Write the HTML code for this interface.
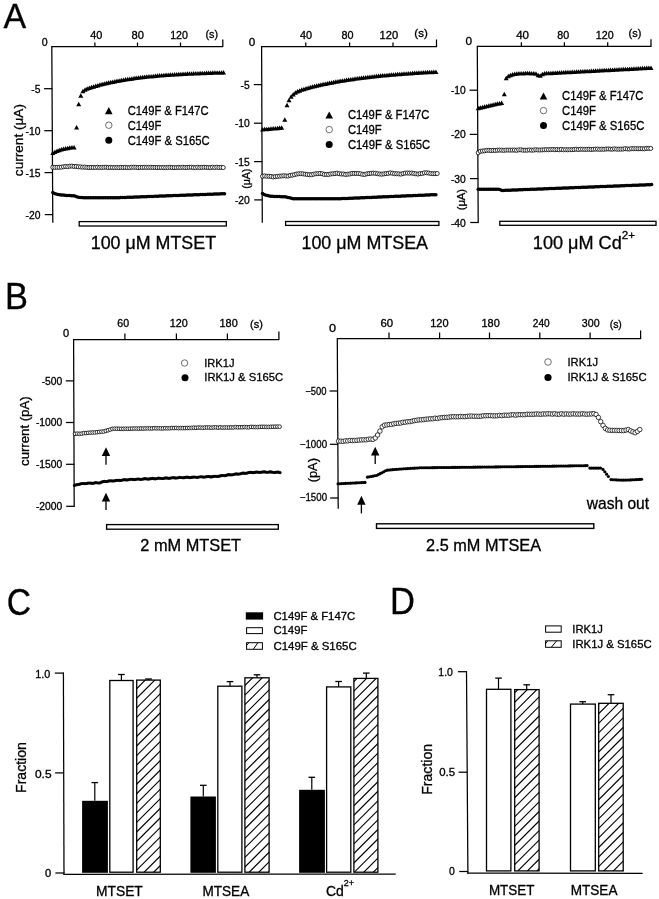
<!DOCTYPE html>
<html><head><meta charset="utf-8"><title>Figure</title>
<style>
html,body{margin:0;padding:0;background:#fff;}
body{width:659px;height:899px;overflow:hidden;}
svg{display:block;}
svg text{font-family:'Liberation Sans', Arial, Helvetica, sans-serif;fill:#000;stroke:#000;stroke-width:0.3;white-space:pre;}
svg line{stroke:#000;}
</style></head><body>
<svg width="659" height="899" viewBox="0 0 659 899">
<rect width="659" height="899" fill="#fff"/>
<text x="3.6" y="27.7" font-size="35.5" textLength="22.7" lengthAdjust="spacingAndGlyphs">A</text>
<text x="5.04" y="309.4" font-size="36.0" textLength="22.97" lengthAdjust="spacingAndGlyphs">B</text>
<text x="6.72" y="614.8" font-size="36.0" textLength="24.26" lengthAdjust="spacingAndGlyphs">C</text>
<text x="390.04" y="614.4" font-size="36.5" textLength="24.91" lengthAdjust="spacingAndGlyphs">D</text>
<line x1="51.8" y1="46.5" x2="222.8" y2="46.5" stroke-width="1.25"/>
<line x1="51.8" y1="45.9" x2="52.8" y2="222.8" stroke-width="1.25"/>
<line x1="222.8" y1="47.1" x2="222.8" y2="39.5" stroke-width="1.25"/>
<line x1="94.9" y1="46.5" x2="94.9" y2="42.5" stroke-width="1.25"/>
<line x1="137.5" y1="46.5" x2="137.5" y2="42.5" stroke-width="1.25"/>
<line x1="180.5" y1="46.5" x2="180.5" y2="42.5" stroke-width="1.25"/>
<line x1="44.04" y1="88.7" x2="52.34" y2="88.7" stroke-width="1.25"/>
<line x1="44.28" y1="130.7" x2="52.58" y2="130.7" stroke-width="1.25"/>
<line x1="44.52" y1="172.6" x2="52.82" y2="172.6" stroke-width="1.25"/>
<line x1="44.75" y1="214.6" x2="53.05" y2="214.6" stroke-width="1.25"/>
<text x="41.78" y="45.5" font-size="10.3" textLength="5.9" lengthAdjust="spacingAndGlyphs">0</text>
<text x="90.18" y="38.7" font-size="10.3" textLength="12.11" lengthAdjust="spacingAndGlyphs">40</text>
<text x="131.45" y="38.5" font-size="10.3" textLength="12.45" lengthAdjust="spacingAndGlyphs">80</text>
<text x="170.16" y="38.5" font-size="10.3" textLength="17.73" lengthAdjust="spacingAndGlyphs">120</text>
<text x="205.56" y="37.5" font-size="10.3" textLength="12.51" lengthAdjust="spacingAndGlyphs">(s)</text>
<text x="31.21" y="92.6" font-size="10.3">-5</text>
<text x="25.49" y="134.6" font-size="10.3">-10</text>
<text x="25.49" y="176.5" font-size="10.3">-15</text>
<text x="25.49" y="218.5" font-size="10.3">-20</text>
<text transform="translate(23.3 175.9) rotate(-90)" x="-0.24" y="0" font-size="13.7" textLength="72.06" lengthAdjust="spacingAndGlyphs">current (μA)</text>
<path d="M50.3 155.08L52.8 150.58L55.3 155.08ZM52.43 153.96L54.93 149.46L57.43 153.96ZM54.56 153.03L57.06 148.53L59.56 153.03ZM56.69 152.24L59.19 147.74L61.69 152.24ZM58.82 151.59L61.32 147.09L63.82 151.59ZM60.95 151.04L63.45 146.54L65.95 151.04ZM63.08 150.58L65.58 146.08L68.08 150.58ZM65.21 150.2L67.71 145.7L70.21 150.2ZM67.34 149.87L69.84 145.37L72.34 149.87ZM69.47 149.6L71.97 145.1L74.47 149.6ZM71.6 149.38L74.1 144.88L76.6 149.38ZM74.1 129.45L76.6 124.95L79.1 129.45ZM76.2 106.25L78.7 101.75L81.2 106.25ZM78.3 97.68L80.8 93.18L83.3 97.68ZM80.43 93.29L82.93 88.79L85.43 93.29ZM82.56 91.66L85.06 87.16L87.56 91.66ZM84.69 90.73L87.19 86.23L89.69 90.73ZM86.82 89.98L89.32 85.48L91.82 89.98ZM88.95 89.29L91.45 84.79L93.95 89.29ZM91.08 88.65L93.58 84.15L96.08 88.65ZM93.21 88.03L95.71 83.53L98.21 88.03ZM95.34 87.44L97.84 82.94L100.34 87.44ZM97.47 86.87L99.97 82.37L102.47 86.87ZM99.6 86.32L102.1 81.82L104.6 86.32ZM101.73 85.8L104.23 81.3L106.73 85.8ZM103.86 85.3L106.36 80.8L108.86 85.3ZM105.99 84.81L108.49 80.31L110.99 84.81ZM108.12 84.35L110.62 79.85L113.12 84.35ZM110.25 83.91L112.75 79.41L115.25 83.91ZM112.38 83.48L114.88 78.98L117.38 83.48ZM114.51 83.07L117.01 78.57L119.51 83.07ZM116.64 82.68L119.14 78.18L121.64 82.68ZM118.77 82.3L121.27 77.8L123.77 82.3ZM120.9 81.94L123.4 77.44L125.9 81.94ZM123.03 81.6L125.53 77.1L128.03 81.6ZM125.16 81.26L127.66 76.76L130.16 81.26ZM127.29 80.94L129.79 76.44L132.29 80.94ZM129.42 80.64L131.92 76.14L134.42 80.64ZM131.55 80.34L134.05 75.84L136.55 80.34ZM133.68 80.06L136.18 75.56L138.68 80.06ZM135.81 79.79L138.31 75.29L140.81 79.79ZM137.94 79.53L140.44 75.03L142.94 79.53ZM140.07 79.28L142.57 74.78L145.07 79.28ZM142.2 79.04L144.7 74.54L147.2 79.04ZM144.33 78.81L146.83 74.31L149.33 78.81ZM146.46 78.59L148.96 74.09L151.46 78.59ZM148.59 78.38L151.09 73.88L153.59 78.38ZM150.72 78.18L153.22 73.68L155.72 78.18ZM152.85 77.98L155.35 73.48L157.85 77.98ZM154.98 77.79L157.48 73.29L159.98 77.79ZM157.11 77.62L159.61 73.12L162.11 77.62ZM159.24 77.44L161.74 72.94L164.24 77.44ZM161.37 77.28L163.87 72.78L166.37 77.28ZM163.5 77.12L166 72.62L168.5 77.12ZM165.63 76.97L168.13 72.47L170.63 76.97ZM167.76 76.82L170.26 72.32L172.76 76.82ZM169.89 76.68L172.39 72.18L174.89 76.68ZM172.02 76.55L174.52 72.05L177.02 76.55ZM174.15 76.42L176.65 71.92L179.15 76.42ZM176.28 76.29L178.78 71.79L181.28 76.29ZM178.41 76.17L180.91 71.67L183.41 76.17ZM180.54 76.06L183.04 71.56L185.54 76.06ZM182.67 75.95L185.17 71.45L187.67 75.95ZM184.8 75.85L187.3 71.35L189.8 75.85ZM186.93 75.75L189.43 71.25L191.93 75.75ZM189.06 75.65L191.56 71.15L194.06 75.65ZM191.19 75.56L193.69 71.06L196.19 75.56ZM193.32 75.47L195.82 70.97L198.32 75.47ZM195.45 75.38L197.95 70.88L200.45 75.38ZM197.58 75.3L200.08 70.8L202.58 75.3ZM199.71 75.22L202.21 70.72L204.71 75.22ZM201.84 75.15L204.34 70.65L206.84 75.15ZM203.97 75.07L206.47 70.57L208.97 75.07ZM206.1 75L208.6 70.5L211.1 75ZM208.23 74.94L210.73 70.44L213.23 74.94ZM210.36 74.87L212.86 70.37L215.36 74.87ZM212.49 74.81L214.99 70.31L217.49 74.81ZM214.62 74.75L217.12 70.25L219.62 74.75ZM216.75 74.7L219.25 70.2L221.75 74.7ZM218.88 74.64L221.38 70.14L223.88 74.64ZM221.01 74.59L223.51 70.09L226.01 74.59Z" fill="#000"/>
<g fill="#fff" stroke="#000" stroke-width="0.8"><circle cx="52.8" cy="167.28" r="2.05"/><circle cx="54.93" cy="167.38" r="2.05"/><circle cx="57.06" cy="167.27" r="2.05"/><circle cx="59.19" cy="167.28" r="2.05"/><circle cx="61.32" cy="167.16" r="2.05"/><circle cx="63.45" cy="166.74" r="2.05"/><circle cx="65.58" cy="166.48" r="2.05"/><circle cx="67.71" cy="166.58" r="2.05"/><circle cx="69.84" cy="166.17" r="2.05"/><circle cx="71.97" cy="166.09" r="2.05"/><circle cx="74.1" cy="166.46" r="2.05"/><circle cx="76.23" cy="166.43" r="2.05"/><circle cx="78.36" cy="166.81" r="2.05"/><circle cx="80.49" cy="166.9" r="2.05"/><circle cx="82.62" cy="167.16" r="2.05"/><circle cx="84.75" cy="167.1" r="2.05"/><circle cx="86.88" cy="167.38" r="2.05"/><circle cx="89.01" cy="167.51" r="2.05"/><circle cx="91.14" cy="167.4" r="2.05"/><circle cx="93.27" cy="167.49" r="2.05"/><circle cx="95.4" cy="167.47" r="2.05"/><circle cx="97.53" cy="167.23" r="2.05"/><circle cx="99.66" cy="167.5" r="2.05"/><circle cx="101.79" cy="167.44" r="2.05"/><circle cx="103.92" cy="167.32" r="2.05"/><circle cx="106.05" cy="167.21" r="2.05"/><circle cx="108.18" cy="167.55" r="2.05"/><circle cx="110.31" cy="167.39" r="2.05"/><circle cx="112.44" cy="167.49" r="2.05"/><circle cx="114.57" cy="167.55" r="2.05"/><circle cx="116.7" cy="167.49" r="2.05"/><circle cx="118.83" cy="167.57" r="2.05"/><circle cx="120.96" cy="167.36" r="2.05"/><circle cx="123.09" cy="167.52" r="2.05"/><circle cx="125.22" cy="167.38" r="2.05"/><circle cx="127.35" cy="167.57" r="2.05"/><circle cx="129.48" cy="167.55" r="2.05"/><circle cx="131.61" cy="167.24" r="2.05"/><circle cx="133.74" cy="167.25" r="2.05"/><circle cx="135.87" cy="167.29" r="2.05"/><circle cx="138" cy="167.59" r="2.05"/><circle cx="140.13" cy="167.37" r="2.05"/><circle cx="142.26" cy="167.45" r="2.05"/><circle cx="144.39" cy="167.32" r="2.05"/><circle cx="146.52" cy="167.4" r="2.05"/><circle cx="148.65" cy="167.35" r="2.05"/><circle cx="150.78" cy="167.34" r="2.05"/><circle cx="152.91" cy="167.43" r="2.05"/><circle cx="155.04" cy="167.43" r="2.05"/><circle cx="157.17" cy="167.56" r="2.05"/><circle cx="159.3" cy="167.47" r="2.05"/><circle cx="161.43" cy="167.57" r="2.05"/><circle cx="163.56" cy="167.54" r="2.05"/><circle cx="165.69" cy="167.6" r="2.05"/><circle cx="167.82" cy="167.47" r="2.05"/><circle cx="169.95" cy="167.27" r="2.05"/><circle cx="172.08" cy="167.54" r="2.05"/><circle cx="174.21" cy="167.59" r="2.05"/><circle cx="176.34" cy="167.56" r="2.05"/><circle cx="178.47" cy="167.43" r="2.05"/><circle cx="180.6" cy="167.49" r="2.05"/><circle cx="182.73" cy="167.28" r="2.05"/><circle cx="184.86" cy="167.53" r="2.05"/><circle cx="186.99" cy="167.43" r="2.05"/><circle cx="189.12" cy="167.31" r="2.05"/><circle cx="191.25" cy="167.23" r="2.05"/><circle cx="193.38" cy="167.54" r="2.05"/><circle cx="195.51" cy="167.6" r="2.05"/><circle cx="197.64" cy="167.24" r="2.05"/><circle cx="199.77" cy="167.52" r="2.05"/><circle cx="201.9" cy="167.36" r="2.05"/><circle cx="204.03" cy="167.26" r="2.05"/><circle cx="206.16" cy="167.32" r="2.05"/><circle cx="208.29" cy="167.51" r="2.05"/><circle cx="210.42" cy="167.55" r="2.05"/><circle cx="212.55" cy="167.22" r="2.05"/><circle cx="214.68" cy="167.45" r="2.05"/><circle cx="216.81" cy="167.22" r="2.05"/><circle cx="218.94" cy="167.49" r="2.05"/><circle cx="221.07" cy="167.33" r="2.05"/><circle cx="223.2" cy="167.55" r="2.05"/></g>
<g fill="#000"><circle cx="52.8" cy="192.4" r="1.75"/><circle cx="54.5" cy="193.55" r="1.75"/><circle cx="56.2" cy="194.06" r="1.75"/><circle cx="57.9" cy="194.57" r="1.75"/><circle cx="59.6" cy="194.76" r="1.75"/><circle cx="61.3" cy="194.93" r="1.75"/><circle cx="63" cy="195.1" r="1.75"/><circle cx="64.7" cy="195.27" r="1.75"/><circle cx="66.4" cy="195.38" r="1.75"/><circle cx="68.1" cy="195.49" r="1.75"/><circle cx="69.8" cy="195.59" r="1.75"/><circle cx="71.5" cy="195.69" r="1.75"/><circle cx="73.2" cy="195.79" r="1.75"/><circle cx="74.9" cy="195.89" r="1.75"/><circle cx="76.6" cy="196.8" r="1.75"/><circle cx="78.3" cy="197.35" r="1.75"/><circle cx="80" cy="197.47" r="1.75"/><circle cx="81.7" cy="197.58" r="1.75"/><circle cx="83.4" cy="197.69" r="1.75"/><circle cx="85.1" cy="197.8" r="1.75"/><circle cx="86.8" cy="197.8" r="1.75"/><circle cx="88.5" cy="197.8" r="1.75"/><circle cx="90.2" cy="197.8" r="1.75"/><circle cx="91.9" cy="197.8" r="1.75"/><circle cx="93.6" cy="197.8" r="1.75"/><circle cx="95.3" cy="197.8" r="1.75"/><circle cx="97" cy="197.8" r="1.75"/><circle cx="98.7" cy="197.8" r="1.75"/><circle cx="100.4" cy="197.8" r="1.75"/><circle cx="102.1" cy="197.8" r="1.75"/><circle cx="103.8" cy="197.8" r="1.75"/><circle cx="105.5" cy="197.8" r="1.75"/><circle cx="107.2" cy="197.8" r="1.75"/><circle cx="108.9" cy="197.8" r="1.75"/><circle cx="110.6" cy="197.8" r="1.75"/><circle cx="112.3" cy="197.8" r="1.75"/><circle cx="114" cy="197.8" r="1.75"/><circle cx="115.7" cy="197.77" r="1.75"/><circle cx="117.4" cy="197.71" r="1.75"/><circle cx="119.1" cy="197.65" r="1.75"/><circle cx="120.8" cy="197.58" r="1.75"/><circle cx="122.5" cy="197.52" r="1.75"/><circle cx="124.2" cy="197.46" r="1.75"/><circle cx="125.9" cy="197.39" r="1.75"/><circle cx="127.6" cy="197.33" r="1.75"/><circle cx="129.3" cy="197.27" r="1.75"/><circle cx="131" cy="197.2" r="1.75"/><circle cx="132.7" cy="197.14" r="1.75"/><circle cx="134.4" cy="197.07" r="1.75"/><circle cx="136.1" cy="197.01" r="1.75"/><circle cx="137.8" cy="196.95" r="1.75"/><circle cx="139.5" cy="196.88" r="1.75"/><circle cx="141.2" cy="196.82" r="1.75"/><circle cx="142.9" cy="196.76" r="1.75"/><circle cx="144.6" cy="196.69" r="1.75"/><circle cx="146.3" cy="196.63" r="1.75"/><circle cx="148" cy="196.57" r="1.75"/><circle cx="149.7" cy="196.5" r="1.75"/><circle cx="151.4" cy="196.44" r="1.75"/><circle cx="153.1" cy="196.38" r="1.75"/><circle cx="154.8" cy="196.31" r="1.75"/><circle cx="156.5" cy="196.25" r="1.75"/><circle cx="158.2" cy="196.19" r="1.75"/><circle cx="159.9" cy="196.12" r="1.75"/><circle cx="161.6" cy="196.06" r="1.75"/><circle cx="163.3" cy="195.99" r="1.75"/><circle cx="165" cy="195.93" r="1.75"/><circle cx="166.7" cy="195.87" r="1.75"/><circle cx="168.4" cy="195.8" r="1.75"/><circle cx="170.1" cy="195.74" r="1.75"/><circle cx="171.8" cy="195.68" r="1.75"/><circle cx="173.5" cy="195.61" r="1.75"/><circle cx="175.2" cy="195.55" r="1.75"/><circle cx="176.9" cy="195.49" r="1.75"/><circle cx="178.6" cy="195.42" r="1.75"/><circle cx="180.3" cy="195.36" r="1.75"/><circle cx="182" cy="195.3" r="1.75"/><circle cx="183.7" cy="195.23" r="1.75"/><circle cx="185.4" cy="195.17" r="1.75"/><circle cx="187.1" cy="195.11" r="1.75"/><circle cx="188.8" cy="195.04" r="1.75"/><circle cx="190.5" cy="194.98" r="1.75"/><circle cx="192.2" cy="194.91" r="1.75"/><circle cx="193.9" cy="194.85" r="1.75"/><circle cx="195.6" cy="194.79" r="1.75"/><circle cx="197.3" cy="194.72" r="1.75"/><circle cx="199" cy="194.66" r="1.75"/><circle cx="200.7" cy="194.6" r="1.75"/><circle cx="202.4" cy="194.53" r="1.75"/><circle cx="204.1" cy="194.47" r="1.75"/><circle cx="205.8" cy="194.41" r="1.75"/><circle cx="207.5" cy="194.34" r="1.75"/><circle cx="209.2" cy="194.28" r="1.75"/><circle cx="210.9" cy="194.22" r="1.75"/><circle cx="212.6" cy="194.15" r="1.75"/><circle cx="214.3" cy="194.09" r="1.75"/><circle cx="216" cy="194.03" r="1.75"/><circle cx="217.7" cy="193.96" r="1.75"/><circle cx="219.4" cy="193.9" r="1.75"/><circle cx="221.1" cy="193.83" r="1.75"/><circle cx="222.8" cy="193.77" r="1.75"/><circle cx="224.5" cy="193.71" r="1.75"/></g>
<path d="M105 114.2L108.8 107L112.6 114.2Z" fill="#000"/>
<circle cx="108.8" cy="125.2" r="3.25" fill="#fff" stroke="#333" stroke-width="0.7"/>
<circle cx="108.8" cy="140.2" r="3.5" fill="#000"/>
<text x="127.64" y="114.5" font-size="12.2" textLength="80.92" lengthAdjust="spacingAndGlyphs">C149F &amp; F147C</text>
<text x="127.64" y="129.5" font-size="12.2" textLength="33.61" lengthAdjust="spacingAndGlyphs">C149F</text>
<text x="127.64" y="144.5" font-size="12.2" textLength="82.03" lengthAdjust="spacingAndGlyphs">C149F &amp; S165C</text>
<rect x="79.2" y="221.6" width="147.1" height="4.4" fill="#fff" stroke="#000" stroke-width="1.3"/>
<text x="90.75" y="249" font-size="18.2" textLength="125.32" lengthAdjust="spacingAndGlyphs">100 μM MTSET</text>
<line x1="261.6" y1="46.5" x2="436.5" y2="46.5" stroke-width="1.25"/>
<line x1="261.6" y1="45.9" x2="262.3" y2="222.75" stroke-width="1.25"/>
<line x1="436.5" y1="47.1" x2="436.5" y2="39.5" stroke-width="1.25"/>
<line x1="305.8" y1="46.5" x2="305.8" y2="42.5" stroke-width="1.25"/>
<line x1="349.6" y1="46.5" x2="349.6" y2="42.5" stroke-width="1.25"/>
<line x1="393" y1="46.5" x2="393" y2="42.5" stroke-width="1.25"/>
<line x1="253.75" y1="84.6" x2="262.05" y2="84.6" stroke-width="1.25"/>
<line x1="253.91" y1="123.2" x2="262.21" y2="123.2" stroke-width="1.25"/>
<line x1="254.06" y1="161.6" x2="262.36" y2="161.6" stroke-width="1.25"/>
<line x1="254.21" y1="199.9" x2="262.51" y2="199.9" stroke-width="1.25"/>
<text x="248.65" y="45.6" font-size="10.3" textLength="6.47" lengthAdjust="spacingAndGlyphs">0</text>
<text x="300.08" y="39" font-size="10.3" textLength="12.11" lengthAdjust="spacingAndGlyphs">40</text>
<text x="341.57" y="38.6" font-size="10.3" textLength="12.02" lengthAdjust="spacingAndGlyphs">80</text>
<text x="379.52" y="38.6" font-size="10.3" textLength="18.58" lengthAdjust="spacingAndGlyphs">120</text>
<text x="414.3" y="36.7" font-size="10.3" textLength="13.51" lengthAdjust="spacingAndGlyphs">(s)</text>
<text x="240.61" y="88.5" font-size="10.3">-5</text>
<text x="234.89" y="127.1" font-size="10.3">-10</text>
<text x="234.89" y="165.5" font-size="10.3">-15</text>
<text x="234.89" y="203.8" font-size="10.3">-20</text>
<text transform="translate(249.8 188.4) rotate(-90)" x="-0.33" y="0" font-size="11.8" textLength="20.09" lengthAdjust="spacingAndGlyphs">(μA)</text>
<path d="M260 131.55L262.5 127.05L265 131.55ZM262.13 131.36L264.63 126.86L267.13 131.36ZM264.26 131.18L266.76 126.68L269.26 131.18ZM266.39 130.99L268.89 126.49L271.39 130.99ZM268.52 130.8L271.02 126.3L273.52 130.8ZM270.65 130.61L273.15 126.11L275.65 130.61ZM272.78 130.43L275.28 125.93L277.78 130.43ZM274.91 130.24L277.41 125.74L279.91 130.24ZM277.04 130.05L279.54 125.55L282.04 130.05ZM279.17 129.87L281.67 125.37L284.17 129.87ZM282.3 121.65L284.8 117.15L287.3 121.65ZM284.5 107.25L287 102.75L289.5 107.25ZM286.5 102.19L289 97.69L291.5 102.19ZM288.63 98.72L291.13 94.22L293.63 98.72ZM290.76 96.42L293.26 91.92L295.76 96.42ZM292.89 94.8L295.39 90.3L297.89 94.8ZM295.02 93.6L297.52 89.1L300.02 93.6ZM297.15 92.64L299.65 88.14L302.15 92.64ZM299.28 91.84L301.78 87.34L304.28 91.84ZM301.41 91.14L303.91 86.64L306.41 91.14ZM303.54 90.5L306.04 86L308.54 90.5ZM305.67 89.9L308.17 85.4L310.67 89.9ZM307.8 89.34L310.3 84.84L312.8 89.34ZM309.93 88.8L312.43 84.3L314.93 88.8ZM312.06 88.28L314.56 83.78L317.06 88.28ZM314.19 87.77L316.69 83.27L319.19 87.77ZM316.32 87.29L318.82 82.79L321.32 87.29ZM318.45 86.81L320.95 82.31L323.45 86.81ZM320.58 86.35L323.08 81.85L325.58 86.35ZM322.71 85.91L325.21 81.41L327.71 85.91ZM324.84 85.48L327.34 80.98L329.84 85.48ZM326.97 85.05L329.47 80.55L331.97 85.05ZM329.1 84.65L331.6 80.15L334.1 84.65ZM331.23 84.25L333.73 79.75L336.23 84.25ZM333.36 83.86L335.86 79.36L338.36 83.86ZM335.49 83.49L337.99 78.99L340.49 83.49ZM337.62 83.12L340.12 78.62L342.62 83.12ZM339.75 82.76L342.25 78.26L344.75 82.76ZM341.88 82.42L344.38 77.92L346.88 82.42ZM344.01 82.08L346.51 77.58L349.01 82.08ZM346.14 81.76L348.64 77.26L351.14 81.76ZM348.27 81.44L350.77 76.94L353.27 81.44ZM350.4 81.13L352.9 76.63L355.4 81.13ZM352.53 80.83L355.03 76.33L357.53 80.83ZM354.66 80.54L357.16 76.04L359.66 80.54ZM356.79 80.26L359.29 75.76L361.79 80.26ZM358.92 79.98L361.42 75.48L363.92 79.98ZM361.05 79.71L363.55 75.21L366.05 79.71ZM363.18 79.45L365.68 74.95L368.18 79.45ZM365.31 79.2L367.81 74.7L370.31 79.2ZM367.44 78.95L369.94 74.45L372.44 78.95ZM369.57 78.71L372.07 74.21L374.57 78.71ZM371.7 78.48L374.2 73.98L376.7 78.48ZM373.83 78.25L376.33 73.75L378.83 78.25ZM375.96 78.04L378.46 73.54L380.96 78.04ZM378.09 77.82L380.59 73.32L383.09 77.82ZM380.22 77.61L382.72 73.11L385.22 77.61ZM382.35 77.41L384.85 72.91L387.35 77.41ZM384.48 77.21L386.98 72.71L389.48 77.21ZM386.61 77.02L389.11 72.52L391.61 77.02ZM388.74 76.84L391.24 72.34L393.74 76.84ZM390.87 76.66L393.37 72.16L395.87 76.66ZM393 76.48L395.5 71.98L398 76.48ZM395.13 76.31L397.63 71.81L400.13 76.31ZM397.26 76.15L399.76 71.65L402.26 76.15ZM399.39 75.98L401.89 71.48L404.39 75.98ZM401.52 75.83L404.02 71.33L406.52 75.83ZM403.65 75.68L406.15 71.18L408.65 75.68ZM405.78 75.53L408.28 71.03L410.78 75.53ZM407.91 75.38L410.41 70.88L412.91 75.38ZM410.04 75.24L412.54 70.74L415.04 75.24ZM412.17 75.11L414.67 70.61L417.17 75.11ZM414.3 74.97L416.8 70.47L419.3 74.97ZM416.43 74.85L418.93 70.35L421.43 74.85ZM418.56 74.72L421.06 70.22L423.56 74.72ZM420.69 74.6L423.19 70.1L425.69 74.6ZM422.82 74.48L425.32 69.98L427.82 74.48ZM424.95 74.37L427.45 69.87L429.95 74.37ZM427.08 74.25L429.58 69.75L432.08 74.25ZM429.21 74.15L431.71 69.65L434.21 74.15ZM431.34 74.04L433.84 69.54L436.34 74.04ZM433.47 73.94L435.97 69.44L438.47 73.94Z" fill="#000"/>
<g fill="#fff" stroke="#000" stroke-width="0.8"><circle cx="262.5" cy="176.29" r="2.05"/><circle cx="264.63" cy="175.9" r="2.05"/><circle cx="266.76" cy="176.26" r="2.05"/><circle cx="268.89" cy="176.24" r="2.05"/><circle cx="271.02" cy="176.47" r="2.05"/><circle cx="273.15" cy="176.94" r="2.05"/><circle cx="275.28" cy="176.6" r="2.05"/><circle cx="277.41" cy="176.39" r="2.05"/><circle cx="279.54" cy="176.14" r="2.05"/><circle cx="281.67" cy="175.99" r="2.05"/><circle cx="283.8" cy="175.76" r="2.05"/><circle cx="285.93" cy="175.95" r="2.05"/><circle cx="288.06" cy="176.08" r="2.05"/><circle cx="290.19" cy="175.42" r="2.05"/><circle cx="292.32" cy="175.13" r="2.05"/><circle cx="294.45" cy="174.68" r="2.05"/><circle cx="296.58" cy="174.05" r="2.05"/><circle cx="298.71" cy="173.76" r="2.05"/><circle cx="300.84" cy="173.66" r="2.05"/><circle cx="302.97" cy="173.86" r="2.05"/><circle cx="305.1" cy="174.16" r="2.05"/><circle cx="307.23" cy="174.47" r="2.05"/><circle cx="309.36" cy="174.65" r="2.05"/><circle cx="311.49" cy="174.71" r="2.05"/><circle cx="313.62" cy="174.17" r="2.05"/><circle cx="315.75" cy="173.76" r="2.05"/><circle cx="317.88" cy="173.67" r="2.05"/><circle cx="320.01" cy="173.46" r="2.05"/><circle cx="322.14" cy="173.75" r="2.05"/><circle cx="324.27" cy="174.44" r="2.05"/><circle cx="326.4" cy="174.46" r="2.05"/><circle cx="328.53" cy="174.48" r="2.05"/><circle cx="330.66" cy="173.96" r="2.05"/><circle cx="332.79" cy="173.79" r="2.05"/><circle cx="334.92" cy="173.56" r="2.05"/><circle cx="337.05" cy="173.19" r="2.05"/><circle cx="339.18" cy="173.66" r="2.05"/><circle cx="341.31" cy="174" r="2.05"/><circle cx="343.44" cy="174.03" r="2.05"/><circle cx="345.57" cy="174.44" r="2.05"/><circle cx="347.7" cy="174.21" r="2.05"/><circle cx="349.83" cy="173.98" r="2.05"/><circle cx="351.96" cy="173.45" r="2.05"/><circle cx="354.09" cy="173.43" r="2.05"/><circle cx="356.22" cy="173.51" r="2.05"/><circle cx="358.35" cy="173.43" r="2.05"/><circle cx="360.48" cy="173.8" r="2.05"/><circle cx="362.61" cy="174.33" r="2.05"/><circle cx="364.74" cy="174.44" r="2.05"/><circle cx="366.87" cy="173.81" r="2.05"/><circle cx="369" cy="173.53" r="2.05"/><circle cx="371.13" cy="173.31" r="2.05"/><circle cx="373.26" cy="173.13" r="2.05"/><circle cx="375.39" cy="173.35" r="2.05"/><circle cx="377.52" cy="173.67" r="2.05"/><circle cx="379.65" cy="173.99" r="2.05"/><circle cx="381.78" cy="174.19" r="2.05"/><circle cx="383.91" cy="173.86" r="2.05"/><circle cx="386.04" cy="173.54" r="2.05"/><circle cx="388.17" cy="173.39" r="2.05"/><circle cx="390.3" cy="172.86" r="2.05"/><circle cx="392.43" cy="173.23" r="2.05"/><circle cx="394.56" cy="173.62" r="2.05"/><circle cx="396.69" cy="173.74" r="2.05"/><circle cx="398.82" cy="173.89" r="2.05"/><circle cx="400.95" cy="174.11" r="2.05"/><circle cx="403.08" cy="173.53" r="2.05"/><circle cx="405.21" cy="173.12" r="2.05"/><circle cx="407.34" cy="172.99" r="2.05"/><circle cx="409.47" cy="173.11" r="2.05"/><circle cx="411.6" cy="173.04" r="2.05"/><circle cx="413.73" cy="173.5" r="2.05"/><circle cx="415.86" cy="173.78" r="2.05"/><circle cx="417.99" cy="174.07" r="2.05"/><circle cx="420.12" cy="173.66" r="2.05"/><circle cx="422.25" cy="173.5" r="2.05"/><circle cx="424.38" cy="172.83" r="2.05"/><circle cx="426.51" cy="172.78" r="2.05"/><circle cx="428.64" cy="173.08" r="2.05"/><circle cx="430.77" cy="173.52" r="2.05"/><circle cx="432.9" cy="173.63" r="2.05"/><circle cx="435.03" cy="173.67" r="2.05"/><circle cx="437.16" cy="173.51" r="2.05"/></g>
<g fill="#000"><circle cx="262.5" cy="193.62" r="1.75"/><circle cx="264.2" cy="194.51" r="1.75"/><circle cx="265.9" cy="195.14" r="1.75"/><circle cx="267.6" cy="195.59" r="1.75"/><circle cx="269.3" cy="195.91" r="1.75"/><circle cx="271" cy="196.14" r="1.75"/><circle cx="272.7" cy="196.3" r="1.75"/><circle cx="274.4" cy="196.42" r="1.75"/><circle cx="276.1" cy="196.5" r="1.75"/><circle cx="277.8" cy="196.56" r="1.75"/><circle cx="279.5" cy="196.6" r="1.75"/><circle cx="281.2" cy="196.63" r="1.75"/><circle cx="282.9" cy="196.65" r="1.75"/><circle cx="284.6" cy="196.66" r="1.75"/><circle cx="286.3" cy="197.01" r="1.75"/><circle cx="288" cy="197.41" r="1.75"/><circle cx="289.7" cy="197.82" r="1.75"/><circle cx="291.4" cy="198.22" r="1.75"/><circle cx="293.1" cy="198.7" r="1.75"/><circle cx="294.8" cy="198.7" r="1.75"/><circle cx="296.5" cy="198.7" r="1.75"/><circle cx="298.2" cy="198.7" r="1.75"/><circle cx="299.9" cy="198.7" r="1.75"/><circle cx="301.6" cy="198.7" r="1.75"/><circle cx="303.3" cy="198.7" r="1.75"/><circle cx="305" cy="198.7" r="1.75"/><circle cx="306.7" cy="198.7" r="1.75"/><circle cx="308.4" cy="198.7" r="1.75"/><circle cx="310.1" cy="198.7" r="1.75"/><circle cx="311.8" cy="198.7" r="1.75"/><circle cx="313.5" cy="198.7" r="1.75"/><circle cx="315.2" cy="198.7" r="1.75"/><circle cx="316.9" cy="198.7" r="1.75"/><circle cx="318.6" cy="198.7" r="1.75"/><circle cx="320.3" cy="198.7" r="1.75"/><circle cx="322" cy="198.7" r="1.75"/><circle cx="323.7" cy="198.7" r="1.75"/><circle cx="325.4" cy="198.7" r="1.75"/><circle cx="327.1" cy="198.7" r="1.75"/><circle cx="328.8" cy="198.7" r="1.75"/><circle cx="330.5" cy="198.7" r="1.75"/><circle cx="332.2" cy="198.7" r="1.75"/><circle cx="333.9" cy="198.7" r="1.75"/><circle cx="335.6" cy="198.7" r="1.75"/><circle cx="337.3" cy="198.7" r="1.75"/><circle cx="339" cy="198.7" r="1.75"/><circle cx="340.7" cy="198.67" r="1.75"/><circle cx="342.4" cy="198.6" r="1.75"/><circle cx="344.1" cy="198.53" r="1.75"/><circle cx="345.8" cy="198.45" r="1.75"/><circle cx="347.5" cy="198.38" r="1.75"/><circle cx="349.2" cy="198.31" r="1.75"/><circle cx="350.9" cy="198.24" r="1.75"/><circle cx="352.6" cy="198.17" r="1.75"/><circle cx="354.3" cy="198.1" r="1.75"/><circle cx="356" cy="198.02" r="1.75"/><circle cx="357.7" cy="197.95" r="1.75"/><circle cx="359.4" cy="197.88" r="1.75"/><circle cx="361.1" cy="197.81" r="1.75"/><circle cx="362.8" cy="197.74" r="1.75"/><circle cx="364.5" cy="197.66" r="1.75"/><circle cx="366.2" cy="197.59" r="1.75"/><circle cx="367.9" cy="197.52" r="1.75"/><circle cx="369.6" cy="197.45" r="1.75"/><circle cx="371.3" cy="197.38" r="1.75"/><circle cx="373" cy="197.31" r="1.75"/><circle cx="374.7" cy="197.23" r="1.75"/><circle cx="376.4" cy="197.16" r="1.75"/><circle cx="378.1" cy="197.09" r="1.75"/><circle cx="379.8" cy="197.02" r="1.75"/><circle cx="381.5" cy="196.95" r="1.75"/><circle cx="383.2" cy="196.87" r="1.75"/><circle cx="384.9" cy="196.8" r="1.75"/><circle cx="386.6" cy="196.73" r="1.75"/><circle cx="388.3" cy="196.66" r="1.75"/><circle cx="390" cy="196.59" r="1.75"/><circle cx="391.7" cy="196.51" r="1.75"/><circle cx="393.4" cy="196.44" r="1.75"/><circle cx="395.1" cy="196.37" r="1.75"/><circle cx="396.8" cy="196.3" r="1.75"/><circle cx="398.5" cy="196.23" r="1.75"/><circle cx="400.2" cy="196.16" r="1.75"/><circle cx="401.9" cy="196.08" r="1.75"/><circle cx="403.6" cy="196.01" r="1.75"/><circle cx="405.3" cy="195.94" r="1.75"/><circle cx="407" cy="195.87" r="1.75"/><circle cx="408.7" cy="195.8" r="1.75"/><circle cx="410.4" cy="195.72" r="1.75"/><circle cx="412.1" cy="195.65" r="1.75"/><circle cx="413.8" cy="195.58" r="1.75"/><circle cx="415.5" cy="195.51" r="1.75"/><circle cx="417.2" cy="195.44" r="1.75"/><circle cx="418.9" cy="195.37" r="1.75"/><circle cx="420.6" cy="195.29" r="1.75"/><circle cx="422.3" cy="195.22" r="1.75"/><circle cx="424" cy="195.15" r="1.75"/><circle cx="425.7" cy="195.08" r="1.75"/><circle cx="427.4" cy="195.01" r="1.75"/><circle cx="429.1" cy="194.93" r="1.75"/><circle cx="430.8" cy="194.86" r="1.75"/><circle cx="432.5" cy="194.79" r="1.75"/><circle cx="434.2" cy="194.72" r="1.75"/><circle cx="435.9" cy="194.65" r="1.75"/></g>
<path d="M325.4 118.6L329.2 111.4L333 118.6Z" fill="#000"/>
<circle cx="329.2" cy="129.6" r="3.25" fill="#fff" stroke="#333" stroke-width="0.7"/>
<circle cx="329.2" cy="144.6" r="3.5" fill="#000"/>
<text x="347.94" y="118.9" font-size="12.2" textLength="81.43" lengthAdjust="spacingAndGlyphs">C149F &amp; F147C</text>
<text x="347.94" y="133.9" font-size="12.2" textLength="33.82" lengthAdjust="spacingAndGlyphs">C149F</text>
<text x="347.93" y="148.9" font-size="12.2" textLength="82.33" lengthAdjust="spacingAndGlyphs">C149F &amp; S165C</text>
<rect x="285.6" y="221.5" width="153.3" height="3.9" fill="#fff" stroke="#000" stroke-width="1.3"/>
<text x="301.45" y="248.6" font-size="18.2" textLength="126.6" lengthAdjust="spacingAndGlyphs">100 μM MTSEA</text>
<line x1="477.3" y1="46.3" x2="651" y2="46.3" stroke-width="1.25"/>
<line x1="477.3" y1="45.7" x2="478.2" y2="223" stroke-width="1.25"/>
<line x1="651" y1="46.9" x2="651" y2="39.3" stroke-width="1.25"/>
<line x1="521.4" y1="46.3" x2="521.4" y2="42.3" stroke-width="1.25"/>
<line x1="564.4" y1="46.3" x2="564.4" y2="42.3" stroke-width="1.25"/>
<line x1="607.7" y1="46.3" x2="607.7" y2="42.3" stroke-width="1.25"/>
<line x1="469.53" y1="90.2" x2="477.83" y2="90.2" stroke-width="1.25"/>
<line x1="469.75" y1="134.4" x2="478.05" y2="134.4" stroke-width="1.25"/>
<line x1="469.97" y1="178.6" x2="478.27" y2="178.6" stroke-width="1.25"/>
<line x1="470.2" y1="222.5" x2="478.5" y2="222.5" stroke-width="1.25"/>
<text x="465.44" y="44.6" font-size="10.3" textLength="6.58" lengthAdjust="spacingAndGlyphs">0</text>
<text x="516.17" y="38.6" font-size="10.3" textLength="12.85" lengthAdjust="spacingAndGlyphs">40</text>
<text x="557.37" y="38.6" font-size="10.3" textLength="11.92" lengthAdjust="spacingAndGlyphs">80</text>
<text x="595.85" y="38.6" font-size="10.3" textLength="17.83" lengthAdjust="spacingAndGlyphs">120</text>
<text x="628.64" y="36.5" font-size="10.3" textLength="12.73" lengthAdjust="spacingAndGlyphs">(s)</text>
<text x="450.89" y="94.1" font-size="10.3">-10</text>
<text x="450.89" y="138.3" font-size="10.3">-20</text>
<text x="450.89" y="182.5" font-size="10.3">-30</text>
<text x="450.89" y="226.6" font-size="10.3">-40</text>
<text transform="translate(465.3 210) rotate(-90)" x="-0.37" y="0" font-size="11.8" textLength="21.47" lengthAdjust="spacingAndGlyphs">(μA)</text>
<path d="M475.7 110.15L478.2 105.65L480.7 110.15ZM477.83 109.67L480.33 105.17L482.83 109.67ZM479.96 109.2L482.46 104.7L484.96 109.2ZM482.09 108.72L484.59 104.22L487.09 108.72ZM484.22 108.25L486.72 103.75L489.22 108.25ZM486.35 107.77L488.85 103.27L491.35 107.77ZM488.48 107.29L490.98 102.79L493.48 107.29ZM490.61 106.82L493.11 102.32L495.61 106.82ZM492.74 106.34L495.24 101.84L497.74 106.34ZM494.87 105.86L497.37 101.36L499.87 105.86ZM497 105.39L499.5 100.89L502 105.39ZM499.13 104.91L501.63 100.41L504.13 104.91ZM501.8 96.15L504.3 91.65L506.8 96.15ZM503.7 80.25L506.2 75.75L508.7 80.25ZM505.8 78.15L508.3 73.65L510.8 78.15ZM507.93 77.15L510.43 72.65L512.93 77.15ZM510.06 76.49L512.56 71.99L515.06 76.49ZM512.19 76.06L514.69 71.56L517.19 76.06ZM514.32 75.78L516.82 71.28L519.32 75.78ZM516.45 75.6L518.95 71.1L521.45 75.6ZM518.58 75.48L521.08 70.98L523.58 75.48ZM520.71 75.4L523.21 70.9L525.71 75.4ZM522.84 75.35L525.34 70.85L527.84 75.35ZM524.97 75.31L527.47 70.81L529.97 75.31ZM527.1 75.29L529.6 70.79L532.1 75.29ZM529.23 75.45L531.73 70.95L534.23 75.45ZM531.36 75.47L533.86 70.97L536.36 75.47ZM533.49 75.81L535.99 71.31L538.49 75.81ZM535.62 77.37L538.12 72.87L540.62 77.37ZM537.75 77.83L540.25 73.33L542.75 77.83ZM539.88 76.14L542.38 71.64L544.88 76.14ZM542.01 75.5L544.51 71L547.01 75.5ZM544.14 75.36L546.64 70.86L549.14 75.36ZM546.27 75.25L548.77 70.75L551.27 75.25ZM548.4 75.14L550.9 70.64L553.4 75.14ZM550.53 75.03L553.03 70.53L555.53 75.03ZM552.66 74.92L555.16 70.42L557.66 74.92ZM554.79 74.81L557.29 70.31L559.79 74.81ZM556.92 74.7L559.42 70.2L561.92 74.7ZM559.05 74.58L561.55 70.08L564.05 74.58ZM561.18 74.47L563.68 69.97L566.18 74.47ZM563.31 74.36L565.81 69.86L568.31 74.36ZM565.44 74.25L567.94 69.75L570.44 74.25ZM567.57 74.14L570.07 69.64L572.57 74.14ZM569.7 74.03L572.2 69.53L574.7 74.03ZM571.83 73.91L574.33 69.41L576.83 73.91ZM573.96 73.8L576.46 69.3L578.96 73.8ZM576.09 73.69L578.59 69.19L581.09 73.69ZM578.22 73.58L580.72 69.08L583.22 73.58ZM580.35 73.47L582.85 68.97L585.35 73.47ZM582.48 73.36L584.98 68.86L587.48 73.36ZM584.61 73.25L587.11 68.75L589.61 73.25ZM586.74 73.13L589.24 68.63L591.74 73.13ZM588.87 73.02L591.37 68.52L593.87 73.02ZM591 72.91L593.5 68.41L596 72.91ZM593.13 72.8L595.63 68.3L598.13 72.8ZM595.26 72.69L597.76 68.19L600.26 72.69ZM597.39 72.58L599.89 68.08L602.39 72.58ZM599.52 72.47L602.02 67.97L604.52 72.47ZM601.65 72.35L604.15 67.85L606.65 72.35ZM603.78 72.24L606.28 67.74L608.78 72.24ZM605.91 72.13L608.41 67.63L610.91 72.13ZM608.04 72.02L610.54 67.52L613.04 72.02ZM610.17 71.91L612.67 67.41L615.17 71.91ZM612.3 71.8L614.8 67.3L617.3 71.8ZM614.43 71.69L616.93 67.19L619.43 71.69ZM616.56 71.57L619.06 67.07L621.56 71.57ZM618.69 71.46L621.19 66.96L623.69 71.46ZM620.82 71.35L623.32 66.85L625.82 71.35ZM622.95 71.24L625.45 66.74L627.95 71.24ZM625.08 71.13L627.58 66.63L630.08 71.13ZM627.21 71.02L629.71 66.52L632.21 71.02ZM629.34 70.91L631.84 66.41L634.34 70.91ZM631.47 70.79L633.97 66.29L636.47 70.79ZM633.6 70.68L636.1 66.18L638.6 70.68ZM635.73 70.57L638.23 66.07L640.73 70.57ZM637.86 70.46L640.36 65.96L642.86 70.46ZM639.99 70.35L642.49 65.85L644.99 70.35ZM642.12 70.24L644.62 65.74L647.12 70.24ZM644.25 70.12L646.75 65.62L649.25 70.12ZM646.38 70.01L648.88 65.51L651.38 70.01ZM648.51 69.9L651.01 65.4L653.51 69.9Z" fill="#000"/>
<g fill="#fff" stroke="#000" stroke-width="0.8"><circle cx="478.2" cy="152.73" r="2.05"/><circle cx="480.33" cy="151.27" r="2.05"/><circle cx="482.46" cy="151.01" r="2.05"/><circle cx="484.59" cy="150.77" r="2.05"/><circle cx="486.72" cy="150.32" r="2.05"/><circle cx="488.85" cy="150.3" r="2.05"/><circle cx="490.98" cy="150.53" r="2.05"/><circle cx="493.11" cy="150.41" r="2.05"/><circle cx="495.24" cy="150.47" r="2.05"/><circle cx="497.37" cy="150.21" r="2.05"/><circle cx="499.5" cy="150.08" r="2.05"/><circle cx="501.63" cy="150.14" r="2.05"/><circle cx="503.76" cy="150.37" r="2.05"/><circle cx="505.89" cy="150.08" r="2.05"/><circle cx="508.02" cy="150.1" r="2.05"/><circle cx="510.15" cy="150.11" r="2.05"/><circle cx="512.28" cy="150.09" r="2.05"/><circle cx="514.41" cy="150.06" r="2.05"/><circle cx="516.54" cy="150.29" r="2.05"/><circle cx="518.67" cy="149.89" r="2.05"/><circle cx="520.8" cy="149.79" r="2.05"/><circle cx="522.93" cy="150.23" r="2.05"/><circle cx="525.06" cy="150.18" r="2.05"/><circle cx="527.19" cy="150.21" r="2.05"/><circle cx="529.32" cy="149.91" r="2.05"/><circle cx="531.45" cy="150.14" r="2.05"/><circle cx="533.58" cy="150.11" r="2.05"/><circle cx="535.71" cy="149.73" r="2.05"/><circle cx="537.84" cy="149.97" r="2.05"/><circle cx="539.97" cy="150" r="2.05"/><circle cx="542.1" cy="149.89" r="2.05"/><circle cx="544.23" cy="149.79" r="2.05"/><circle cx="546.36" cy="149.65" r="2.05"/><circle cx="548.49" cy="149.66" r="2.05"/><circle cx="550.62" cy="149.58" r="2.05"/><circle cx="552.75" cy="149.47" r="2.05"/><circle cx="554.88" cy="149.71" r="2.05"/><circle cx="557.01" cy="149.54" r="2.05"/><circle cx="559.14" cy="149.77" r="2.05"/><circle cx="561.27" cy="149.37" r="2.05"/><circle cx="563.4" cy="149.77" r="2.05"/><circle cx="565.53" cy="149.65" r="2.05"/><circle cx="567.66" cy="149.74" r="2.05"/><circle cx="569.79" cy="149.7" r="2.05"/><circle cx="571.92" cy="149.68" r="2.05"/><circle cx="574.05" cy="149.5" r="2.05"/><circle cx="576.18" cy="149.19" r="2.05"/><circle cx="578.31" cy="149.53" r="2.05"/><circle cx="580.44" cy="149.22" r="2.05"/><circle cx="582.57" cy="149.26" r="2.05"/><circle cx="584.7" cy="149.42" r="2.05"/><circle cx="586.83" cy="149.33" r="2.05"/><circle cx="588.96" cy="149.25" r="2.05"/><circle cx="591.09" cy="149.49" r="2.05"/><circle cx="593.22" cy="149.31" r="2.05"/><circle cx="595.35" cy="149.15" r="2.05"/><circle cx="597.48" cy="149.08" r="2.05"/><circle cx="599.61" cy="149.36" r="2.05"/><circle cx="601.74" cy="149.15" r="2.05"/><circle cx="603.87" cy="149.27" r="2.05"/><circle cx="606" cy="149.04" r="2.05"/><circle cx="608.13" cy="148.94" r="2.05"/><circle cx="610.26" cy="149.08" r="2.05"/><circle cx="612.39" cy="149.2" r="2.05"/><circle cx="614.52" cy="148.85" r="2.05"/><circle cx="616.65" cy="149.14" r="2.05"/><circle cx="618.78" cy="149.18" r="2.05"/><circle cx="620.91" cy="149.1" r="2.05"/><circle cx="623.04" cy="149.09" r="2.05"/><circle cx="625.17" cy="148.66" r="2.05"/><circle cx="627.3" cy="148.94" r="2.05"/><circle cx="629.43" cy="149.04" r="2.05"/><circle cx="631.56" cy="148.61" r="2.05"/><circle cx="633.69" cy="148.7" r="2.05"/><circle cx="635.82" cy="148.67" r="2.05"/><circle cx="637.95" cy="148.78" r="2.05"/><circle cx="640.08" cy="148.7" r="2.05"/><circle cx="642.21" cy="148.7" r="2.05"/><circle cx="644.34" cy="148.83" r="2.05"/><circle cx="646.47" cy="148.42" r="2.05"/><circle cx="648.6" cy="148.43" r="2.05"/><circle cx="650.73" cy="148.44" r="2.05"/></g>
<g fill="#000"><circle cx="478.2" cy="189.2" r="1.75"/><circle cx="479.9" cy="189.2" r="1.75"/><circle cx="481.6" cy="189.2" r="1.75"/><circle cx="483.3" cy="189.2" r="1.75"/><circle cx="485" cy="189.2" r="1.75"/><circle cx="486.7" cy="189.2" r="1.75"/><circle cx="488.4" cy="189.2" r="1.75"/><circle cx="490.1" cy="189.2" r="1.75"/><circle cx="491.8" cy="189.2" r="1.75"/><circle cx="493.5" cy="189.2" r="1.75"/><circle cx="495.2" cy="189.2" r="1.75"/><circle cx="496.9" cy="189.2" r="1.75"/><circle cx="498.6" cy="189.2" r="1.75"/><circle cx="500.3" cy="189.72" r="1.75"/><circle cx="502" cy="190.48" r="1.75"/><circle cx="503.7" cy="190.41" r="1.75"/><circle cx="505.4" cy="190.35" r="1.75"/><circle cx="507.1" cy="190.28" r="1.75"/><circle cx="508.8" cy="190.21" r="1.75"/><circle cx="510.5" cy="190.15" r="1.75"/><circle cx="512.2" cy="190.08" r="1.75"/><circle cx="513.9" cy="190.01" r="1.75"/><circle cx="515.6" cy="189.95" r="1.75"/><circle cx="517.3" cy="189.88" r="1.75"/><circle cx="519" cy="189.81" r="1.75"/><circle cx="520.7" cy="189.75" r="1.75"/><circle cx="522.4" cy="189.68" r="1.75"/><circle cx="524.1" cy="189.61" r="1.75"/><circle cx="525.8" cy="189.55" r="1.75"/><circle cx="527.5" cy="189.48" r="1.75"/><circle cx="529.2" cy="189.41" r="1.75"/><circle cx="530.9" cy="189.35" r="1.75"/><circle cx="532.6" cy="189.28" r="1.75"/><circle cx="534.3" cy="189.21" r="1.75"/><circle cx="536" cy="189.15" r="1.75"/><circle cx="537.7" cy="189.08" r="1.75"/><circle cx="539.4" cy="189.01" r="1.75"/><circle cx="541.1" cy="188.95" r="1.75"/><circle cx="542.8" cy="188.88" r="1.75"/><circle cx="544.5" cy="188.81" r="1.75"/><circle cx="546.2" cy="188.75" r="1.75"/><circle cx="547.9" cy="188.68" r="1.75"/><circle cx="549.6" cy="188.61" r="1.75"/><circle cx="551.3" cy="188.55" r="1.75"/><circle cx="553" cy="188.48" r="1.75"/><circle cx="554.7" cy="188.41" r="1.75"/><circle cx="556.4" cy="188.35" r="1.75"/><circle cx="558.1" cy="188.28" r="1.75"/><circle cx="559.8" cy="188.21" r="1.75"/><circle cx="561.5" cy="188.15" r="1.75"/><circle cx="563.2" cy="188.08" r="1.75"/><circle cx="564.9" cy="188.01" r="1.75"/><circle cx="566.6" cy="187.95" r="1.75"/><circle cx="568.3" cy="187.88" r="1.75"/><circle cx="570" cy="187.81" r="1.75"/><circle cx="571.7" cy="187.75" r="1.75"/><circle cx="573.4" cy="187.68" r="1.75"/><circle cx="575.1" cy="187.61" r="1.75"/><circle cx="576.8" cy="187.55" r="1.75"/><circle cx="578.5" cy="187.48" r="1.75"/><circle cx="580.2" cy="187.41" r="1.75"/><circle cx="581.9" cy="187.35" r="1.75"/><circle cx="583.6" cy="187.28" r="1.75"/><circle cx="585.3" cy="187.21" r="1.75"/><circle cx="587" cy="187.15" r="1.75"/><circle cx="588.7" cy="187.08" r="1.75"/><circle cx="590.4" cy="187.01" r="1.75"/><circle cx="592.1" cy="186.95" r="1.75"/><circle cx="593.8" cy="186.88" r="1.75"/><circle cx="595.5" cy="186.81" r="1.75"/><circle cx="597.2" cy="186.75" r="1.75"/><circle cx="598.9" cy="186.68" r="1.75"/><circle cx="600.6" cy="186.62" r="1.75"/><circle cx="602.3" cy="186.55" r="1.75"/><circle cx="604" cy="186.48" r="1.75"/><circle cx="605.7" cy="186.42" r="1.75"/><circle cx="607.4" cy="186.35" r="1.75"/><circle cx="609.1" cy="186.28" r="1.75"/><circle cx="610.8" cy="186.22" r="1.75"/><circle cx="612.5" cy="186.15" r="1.75"/><circle cx="614.2" cy="186.08" r="1.75"/><circle cx="615.9" cy="186.02" r="1.75"/><circle cx="617.6" cy="185.95" r="1.75"/><circle cx="619.3" cy="185.88" r="1.75"/><circle cx="621" cy="185.82" r="1.75"/><circle cx="622.7" cy="185.75" r="1.75"/><circle cx="624.4" cy="185.68" r="1.75"/><circle cx="626.1" cy="185.62" r="1.75"/><circle cx="627.8" cy="185.55" r="1.75"/><circle cx="629.5" cy="185.48" r="1.75"/><circle cx="631.2" cy="185.42" r="1.75"/><circle cx="632.9" cy="185.35" r="1.75"/><circle cx="634.6" cy="185.28" r="1.75"/><circle cx="636.3" cy="185.22" r="1.75"/><circle cx="638" cy="185.15" r="1.75"/><circle cx="639.7" cy="185.08" r="1.75"/><circle cx="641.4" cy="185.02" r="1.75"/><circle cx="643.1" cy="184.95" r="1.75"/><circle cx="644.8" cy="184.88" r="1.75"/><circle cx="646.5" cy="184.82" r="1.75"/><circle cx="648.2" cy="184.75" r="1.75"/><circle cx="649.9" cy="184.68" r="1.75"/><circle cx="651.6" cy="184.62" r="1.75"/></g>
<path d="M539.7 99.6L543.5 92.4L547.3 99.6Z" fill="#000"/>
<circle cx="543.5" cy="110.6" r="3.25" fill="#fff" stroke="#333" stroke-width="0.7"/>
<circle cx="543.5" cy="125.6" r="3.5" fill="#000"/>
<text x="562.04" y="99.9" font-size="12.2" textLength="81.43" lengthAdjust="spacingAndGlyphs">C149F &amp; F147C</text>
<text x="562.04" y="114.9" font-size="12.2" textLength="33.82" lengthAdjust="spacingAndGlyphs">C149F</text>
<text x="562.03" y="129.9" font-size="12.2" textLength="82.33" lengthAdjust="spacingAndGlyphs">C149F &amp; S165C</text>
<rect x="499.8" y="221.3" width="156.2" height="4" fill="#fff" stroke="#000" stroke-width="1.3"/>
<text x="532.83" y="248.6" font-size="18.2" textLength="88.88" lengthAdjust="spacingAndGlyphs">100 μM Cd</text>
<text x="621.72" y="238.5" font-size="11.6" textLength="13.3" lengthAdjust="spacingAndGlyphs">2+</text>
<line x1="73.6" y1="339.5" x2="278.9" y2="339.5" stroke-width="1.25"/>
<line x1="73.6" y1="338.9" x2="74.2" y2="506.9" stroke-width="1.25"/>
<line x1="278.9" y1="340.1" x2="278.9" y2="331.5" stroke-width="1.25"/>
<line x1="124.9" y1="339.5" x2="124.9" y2="333.5" stroke-width="1.25"/>
<line x1="176.4" y1="339.5" x2="176.4" y2="333.5" stroke-width="1.25"/>
<line x1="227.4" y1="339.5" x2="227.4" y2="333.5" stroke-width="1.25"/>
<line x1="65.75" y1="380.9" x2="74.05" y2="380.9" stroke-width="1.25"/>
<line x1="65.9" y1="422.5" x2="74.2" y2="422.5" stroke-width="1.25"/>
<line x1="66.05" y1="464.3" x2="74.35" y2="464.3" stroke-width="1.25"/>
<line x1="66.2" y1="506.3" x2="74.5" y2="506.3" stroke-width="1.25"/>
<text x="62.97" y="336.6" font-size="10.3" textLength="6.13" lengthAdjust="spacingAndGlyphs">0</text>
<text x="117.27" y="327" font-size="10.3" textLength="11.82" lengthAdjust="spacingAndGlyphs">60</text>
<text x="169.84" y="327" font-size="10.3" textLength="18.05" lengthAdjust="spacingAndGlyphs">120</text>
<text x="219.54" y="327" font-size="10.3" textLength="18.16" lengthAdjust="spacingAndGlyphs">180</text>
<text x="250.14" y="328.1" font-size="10.3" textLength="12.73" lengthAdjust="spacingAndGlyphs">(s)</text>
<text x="41.66" y="384.8" font-size="10.3">-500</text>
<text x="35.93" y="426.4" font-size="10.3">-1000</text>
<text x="35.93" y="468.2" font-size="10.3">-1500</text>
<text x="35.93" y="509.8" font-size="10.3">-2000</text>
<text transform="translate(29.4 465.7) rotate(-90)" x="-0.23" y="0" font-size="12.3" textLength="69.52" lengthAdjust="spacingAndGlyphs">current (pA)</text>
<g fill="#fff" stroke="#000" stroke-width="0.8"><circle cx="75" cy="433.85" r="1.85"/><circle cx="77.2" cy="433.65" r="1.85"/><circle cx="79.4" cy="433.83" r="1.85"/><circle cx="81.6" cy="433.6" r="1.85"/><circle cx="83.8" cy="433.11" r="1.85"/><circle cx="86" cy="433.09" r="1.85"/><circle cx="88.2" cy="432.83" r="1.85"/><circle cx="90.4" cy="432.65" r="1.85"/><circle cx="92.6" cy="432.48" r="1.85"/><circle cx="94.8" cy="432.42" r="1.85"/><circle cx="97" cy="432.21" r="1.85"/><circle cx="99.2" cy="431.94" r="1.85"/><circle cx="101.4" cy="431.69" r="1.85"/><circle cx="103.6" cy="431.56" r="1.85"/><circle cx="105.8" cy="430.84" r="1.85"/><circle cx="108" cy="430.27" r="1.85"/><circle cx="110.2" cy="429.59" r="1.85"/><circle cx="112.4" cy="428.85" r="1.85"/><circle cx="114.6" cy="428.7" r="1.85"/><circle cx="116.8" cy="428.71" r="1.85"/><circle cx="119" cy="428.76" r="1.85"/><circle cx="121.2" cy="428.82" r="1.85"/><circle cx="123.4" cy="428.86" r="1.85"/><circle cx="125.6" cy="428.67" r="1.85"/><circle cx="127.8" cy="428.81" r="1.85"/><circle cx="130" cy="428.71" r="1.85"/><circle cx="132.2" cy="428.61" r="1.85"/><circle cx="134.4" cy="428.56" r="1.85"/><circle cx="136.6" cy="428.58" r="1.85"/><circle cx="138.8" cy="428.63" r="1.85"/><circle cx="141" cy="428.49" r="1.85"/><circle cx="143.2" cy="428.57" r="1.85"/><circle cx="145.4" cy="428.45" r="1.85"/><circle cx="147.6" cy="428.33" r="1.85"/><circle cx="149.8" cy="428.42" r="1.85"/><circle cx="152" cy="428.45" r="1.85"/><circle cx="154.2" cy="428.18" r="1.85"/><circle cx="156.4" cy="428.29" r="1.85"/><circle cx="158.6" cy="428.26" r="1.85"/><circle cx="160.8" cy="428.41" r="1.85"/><circle cx="163" cy="428.41" r="1.85"/><circle cx="165.2" cy="428.15" r="1.85"/><circle cx="167.4" cy="428.33" r="1.85"/><circle cx="169.6" cy="428.26" r="1.85"/><circle cx="171.8" cy="428.02" r="1.85"/><circle cx="174" cy="428.07" r="1.85"/><circle cx="176.2" cy="427.91" r="1.85"/><circle cx="178.4" cy="428.16" r="1.85"/><circle cx="180.6" cy="428.07" r="1.85"/><circle cx="182.8" cy="428.13" r="1.85"/><circle cx="185" cy="428.06" r="1.85"/><circle cx="187.2" cy="427.98" r="1.85"/><circle cx="189.4" cy="427.98" r="1.85"/><circle cx="191.6" cy="427.88" r="1.85"/><circle cx="193.8" cy="427.67" r="1.85"/><circle cx="196" cy="427.84" r="1.85"/><circle cx="198.2" cy="427.57" r="1.85"/><circle cx="200.4" cy="427.6" r="1.85"/><circle cx="202.6" cy="427.82" r="1.85"/><circle cx="204.8" cy="427.5" r="1.85"/><circle cx="207" cy="427.49" r="1.85"/><circle cx="209.2" cy="427.47" r="1.85"/><circle cx="211.4" cy="427.75" r="1.85"/><circle cx="213.6" cy="427.44" r="1.85"/><circle cx="215.8" cy="427.35" r="1.85"/><circle cx="218" cy="427.65" r="1.85"/><circle cx="220.2" cy="427.33" r="1.85"/><circle cx="222.4" cy="427.59" r="1.85"/><circle cx="224.6" cy="427.49" r="1.85"/><circle cx="226.8" cy="427.53" r="1.85"/><circle cx="229" cy="427.55" r="1.85"/><circle cx="231.2" cy="427.37" r="1.85"/><circle cx="233.4" cy="427.43" r="1.85"/><circle cx="235.6" cy="427.1" r="1.85"/><circle cx="237.8" cy="427.36" r="1.85"/><circle cx="240" cy="427.23" r="1.85"/><circle cx="242.2" cy="427.28" r="1.85"/><circle cx="244.4" cy="427.01" r="1.85"/><circle cx="246.6" cy="427.24" r="1.85"/><circle cx="248.8" cy="427.28" r="1.85"/><circle cx="251" cy="426.9" r="1.85"/><circle cx="253.2" cy="426.98" r="1.85"/><circle cx="255.4" cy="427.05" r="1.85"/><circle cx="257.6" cy="427.12" r="1.85"/><circle cx="259.8" cy="426.86" r="1.85"/><circle cx="262" cy="426.81" r="1.85"/><circle cx="264.2" cy="426.81" r="1.85"/><circle cx="266.4" cy="426.92" r="1.85"/><circle cx="268.6" cy="426.95" r="1.85"/><circle cx="270.8" cy="426.78" r="1.85"/><circle cx="273" cy="426.74" r="1.85"/><circle cx="275.2" cy="426.72" r="1.85"/><circle cx="277.4" cy="426.67" r="1.85"/><circle cx="279.6" cy="426.67" r="1.85"/></g>
<g fill="#000"><circle cx="74.5" cy="485.38" r="1.6"/><circle cx="76" cy="484.84" r="1.6"/><circle cx="77.5" cy="484.55" r="1.6"/><circle cx="79" cy="484.31" r="1.6"/><circle cx="80.5" cy="483.87" r="1.6"/><circle cx="82" cy="483.49" r="1.6"/><circle cx="83.5" cy="483.51" r="1.6"/><circle cx="85" cy="483.62" r="1.6"/><circle cx="86.5" cy="483.49" r="1.6"/><circle cx="88" cy="483.12" r="1.6"/><circle cx="89.5" cy="482.98" r="1.6"/><circle cx="91" cy="483.2" r="1.6"/><circle cx="92.5" cy="483.33" r="1.6"/><circle cx="94" cy="483.07" r="1.6"/><circle cx="95.5" cy="482.72" r="1.6"/><circle cx="97" cy="482.73" r="1.6"/><circle cx="98.5" cy="482.98" r="1.6"/><circle cx="100" cy="482.79" r="1.6"/><circle cx="101.5" cy="482.16" r="1.6"/><circle cx="103" cy="481.62" r="1.6"/><circle cx="104.5" cy="481.47" r="1.6"/><circle cx="106" cy="481.55" r="1.6"/><circle cx="107.5" cy="481.36" r="1.6"/><circle cx="109" cy="480.93" r="1.6"/><circle cx="110.5" cy="480.76" r="1.6"/><circle cx="112" cy="480.93" r="1.6"/><circle cx="113.5" cy="481" r="1.6"/><circle cx="115" cy="480.68" r="1.6"/><circle cx="116.5" cy="480.3" r="1.6"/><circle cx="118" cy="480.27" r="1.6"/><circle cx="119.5" cy="480.47" r="1.6"/><circle cx="121" cy="480.4" r="1.6"/><circle cx="122.5" cy="480" r="1.6"/><circle cx="124" cy="479.71" r="1.6"/><circle cx="125.5" cy="479.81" r="1.6"/><circle cx="127" cy="479.96" r="1.6"/><circle cx="128.5" cy="479.75" r="1.6"/><circle cx="130" cy="479.33" r="1.6"/><circle cx="131.5" cy="479.23" r="1.6"/><circle cx="133" cy="479.47" r="1.6"/><circle cx="134.5" cy="479.58" r="1.6"/><circle cx="136" cy="479.31" r="1.6"/><circle cx="137.5" cy="478.99" r="1.6"/><circle cx="139" cy="479.03" r="1.6"/><circle cx="140.5" cy="479.29" r="1.6"/><circle cx="142" cy="479.27" r="1.6"/><circle cx="143.5" cy="478.92" r="1.6"/><circle cx="145" cy="478.7" r="1.6"/><circle cx="146.5" cy="478.86" r="1.6"/><circle cx="148" cy="479.07" r="1.6"/><circle cx="149.5" cy="478.91" r="1.6"/><circle cx="151" cy="478.54" r="1.6"/><circle cx="152.5" cy="478.46" r="1.6"/><circle cx="154" cy="478.7" r="1.6"/><circle cx="155.5" cy="478.8" r="1.6"/><circle cx="157" cy="478.52" r="1.6"/><circle cx="158.5" cy="478.21" r="1.6"/><circle cx="160" cy="478.27" r="1.6"/><circle cx="161.5" cy="478.52" r="1.6"/><circle cx="163" cy="478.48" r="1.6"/><circle cx="164.5" cy="478.13" r="1.6"/><circle cx="166" cy="477.92" r="1.6"/><circle cx="167.5" cy="478.1" r="1.6"/><circle cx="169" cy="478.3" r="1.6"/><circle cx="170.5" cy="478.12" r="1.6"/><circle cx="172" cy="477.75" r="1.6"/><circle cx="173.5" cy="477.69" r="1.6"/><circle cx="175" cy="477.94" r="1.6"/><circle cx="176.5" cy="478.02" r="1.6"/><circle cx="178" cy="477.73" r="1.6"/><circle cx="179.5" cy="477.43" r="1.6"/><circle cx="181" cy="477.51" r="1.6"/><circle cx="182.5" cy="477.77" r="1.6"/><circle cx="184" cy="477.72" r="1.6"/><circle cx="185.5" cy="477.36" r="1.6"/><circle cx="187" cy="477.18" r="1.6"/><circle cx="188.5" cy="477.37" r="1.6"/><circle cx="190" cy="477.57" r="1.6"/><circle cx="191.5" cy="477.38" r="1.6"/><circle cx="193" cy="477.03" r="1.6"/><circle cx="194.5" cy="476.98" r="1.6"/><circle cx="196" cy="477.24" r="1.6"/><circle cx="197.5" cy="477.32" r="1.6"/><circle cx="199" cy="477.02" r="1.6"/><circle cx="200.5" cy="476.73" r="1.6"/><circle cx="202" cy="476.83" r="1.6"/><circle cx="203.5" cy="477.08" r="1.6"/><circle cx="205" cy="477.02" r="1.6"/><circle cx="206.5" cy="476.66" r="1.6"/><circle cx="208" cy="476.49" r="1.6"/><circle cx="209.5" cy="476.69" r="1.6"/><circle cx="211" cy="476.88" r="1.6"/><circle cx="212.5" cy="476.68" r="1.6"/><circle cx="214" cy="476.33" r="1.6"/><circle cx="215.5" cy="476.26" r="1.6"/><circle cx="217" cy="476.4" r="1.6"/><circle cx="218.5" cy="476.35" r="1.6"/><circle cx="220" cy="475.92" r="1.6"/><circle cx="221.5" cy="475.53" r="1.6"/><circle cx="223" cy="475.52" r="1.6"/><circle cx="224.5" cy="475.65" r="1.6"/><circle cx="226" cy="475.45" r="1.6"/><circle cx="227.5" cy="474.97" r="1.6"/><circle cx="229" cy="474.7" r="1.6"/><circle cx="230.5" cy="474.79" r="1.6"/><circle cx="232" cy="474.85" r="1.6"/><circle cx="233.5" cy="474.51" r="1.6"/><circle cx="235" cy="474.05" r="1.6"/><circle cx="236.5" cy="473.91" r="1.6"/><circle cx="238" cy="474.05" r="1.6"/><circle cx="239.5" cy="473.98" r="1.6"/><circle cx="241" cy="473.55" r="1.6"/><circle cx="242.5" cy="473.16" r="1.6"/><circle cx="244" cy="473.16" r="1.6"/><circle cx="245.5" cy="473.28" r="1.6"/><circle cx="247" cy="473.07" r="1.6"/><circle cx="248.5" cy="472.59" r="1.6"/><circle cx="250" cy="472.33" r="1.6"/><circle cx="251.5" cy="472.44" r="1.6"/><circle cx="253" cy="472.6" r="1.6"/><circle cx="254.5" cy="472.38" r="1.6"/><circle cx="256" cy="472.05" r="1.6"/><circle cx="257.5" cy="472.05" r="1.6"/><circle cx="259" cy="472.32" r="1.6"/><circle cx="260.5" cy="472.36" r="1.6"/><circle cx="262" cy="472.04" r="1.6"/><circle cx="263.5" cy="471.79" r="1.6"/><circle cx="265" cy="471.94" r="1.6"/><circle cx="266.5" cy="472.26" r="1.6"/><circle cx="268" cy="472.24" r="1.6"/><circle cx="269.5" cy="471.97" r="1.6"/><circle cx="271" cy="471.93" r="1.6"/><circle cx="272.5" cy="472.24" r="1.6"/><circle cx="274" cy="472.48" r="1.6"/><circle cx="275.5" cy="472.33" r="1.6"/><circle cx="277" cy="472.09" r="1.6"/><circle cx="278.5" cy="472.19" r="1.6"/><circle cx="280" cy="472.54" r="1.6"/></g>
<path d="M101.8 455.9L106 447.3L110.2 455.9Z" fill="#000"/>
<line x1="106" y1="455.4" x2="106" y2="464.8" stroke-width="1.3"/>
<path d="M101.8 501.5L106 492.8L110.2 501.5Z" fill="#000"/>
<line x1="106" y1="501" x2="106" y2="510" stroke-width="1.3"/>
<circle cx="184.6" cy="363.0" r="3.2" fill="#fff" stroke="#333" stroke-width="0.7"/>
<circle cx="185.0" cy="377.8" r="3.5" fill="#000"/>
<text x="204.3" y="366.5" font-size="11.2" textLength="30.17" lengthAdjust="spacingAndGlyphs">IRK1J</text>
<text x="204.29" y="381.4" font-size="11.2" textLength="78.98" lengthAdjust="spacingAndGlyphs">IRK1J &amp; S165C</text>
<rect x="106.6" y="524.6" width="171.7" height="4.6" fill="#fff" stroke="#000" stroke-width="1.35"/>
<text x="140.28" y="551.4" font-size="16.2" textLength="100.76" lengthAdjust="spacingAndGlyphs">2 mM MTSET</text>
<line x1="337.3" y1="338.5" x2="640.6" y2="338.5" stroke-width="1.25"/>
<line x1="337.3" y1="337.9" x2="338.2" y2="508.7" stroke-width="1.25"/>
<line x1="640.6" y1="339.1" x2="640.6" y2="330.5" stroke-width="1.25"/>
<line x1="389" y1="338.5" x2="389" y2="332.5" stroke-width="1.25"/>
<line x1="439.6" y1="338.5" x2="439.6" y2="332.5" stroke-width="1.25"/>
<line x1="489.5" y1="338.5" x2="489.5" y2="332.5" stroke-width="1.25"/>
<line x1="539.8" y1="338.5" x2="539.8" y2="332.5" stroke-width="1.25"/>
<line x1="590.1" y1="338.5" x2="590.1" y2="332.5" stroke-width="1.25"/>
<line x1="329.58" y1="391" x2="337.88" y2="391" stroke-width="1.25"/>
<line x1="329.86" y1="444.3" x2="338.16" y2="444.3" stroke-width="1.25"/>
<line x1="330.14" y1="498" x2="338.44" y2="498" stroke-width="1.25"/>
<text x="328.92" y="332.4" font-size="10.3" textLength="7.04" lengthAdjust="spacingAndGlyphs">0</text>
<text x="380.43" y="327" font-size="10.3" textLength="12.68" lengthAdjust="spacingAndGlyphs">60</text>
<text x="430.23" y="327" font-size="10.3" textLength="18.37" lengthAdjust="spacingAndGlyphs">120</text>
<text x="481.53" y="327" font-size="10.3" textLength="18.26" lengthAdjust="spacingAndGlyphs">180</text>
<text x="532.79" y="327" font-size="10.3" textLength="16.87" lengthAdjust="spacingAndGlyphs">240</text>
<text x="581.88" y="327" font-size="10.3" textLength="17.7" lengthAdjust="spacingAndGlyphs">300</text>
<text x="609.67" y="327.5" font-size="10.3" textLength="12.18" lengthAdjust="spacingAndGlyphs">(s)</text>
<text x="305.32" y="394.6" font-size="10.3" textLength="21.22" lengthAdjust="spacingAndGlyphs">−500</text>
<text x="299.81" y="447.9" font-size="10.3" textLength="27.24" lengthAdjust="spacingAndGlyphs">−1000</text>
<text x="299.81" y="501.2" font-size="10.3" textLength="27.24" lengthAdjust="spacingAndGlyphs">−1500</text>
<text transform="translate(317.3 481.9) rotate(-90)" x="-0.47" y="0" font-size="13.6" textLength="24.36" lengthAdjust="spacingAndGlyphs">(pA)</text>
<g fill="#fff" stroke="#000" stroke-width="0.75"><circle cx="338.5" cy="441.09" r="2.25"/><circle cx="340.8" cy="441.19" r="2.25"/><circle cx="343.1" cy="441.33" r="2.25"/><circle cx="345.4" cy="440.85" r="2.25"/><circle cx="347.7" cy="440.91" r="2.25"/><circle cx="350" cy="440.41" r="2.25"/><circle cx="352.3" cy="440.58" r="2.25"/><circle cx="354.6" cy="440.48" r="2.25"/><circle cx="356.9" cy="440.29" r="2.25"/><circle cx="359.2" cy="440.05" r="2.25"/><circle cx="361.5" cy="439.88" r="2.25"/><circle cx="363.8" cy="439.83" r="2.25"/><circle cx="366.1" cy="439.84" r="2.25"/><circle cx="368.4" cy="439.25" r="2.25"/><circle cx="370.7" cy="439.07" r="2.25"/><circle cx="373" cy="439.32" r="2.25"/><circle cx="375.3" cy="437.94" r="2.25"/><circle cx="377.6" cy="434.99" r="2.25"/><circle cx="379.9" cy="431.11" r="2.25"/><circle cx="382.2" cy="426.81" r="2.25"/><circle cx="384.5" cy="425.2" r="2.25"/><circle cx="386.8" cy="424.92" r="2.25"/><circle cx="389.1" cy="424.55" r="2.25"/><circle cx="391.4" cy="424.4" r="2.25"/><circle cx="393.7" cy="423.82" r="2.25"/><circle cx="396" cy="423.36" r="2.25"/><circle cx="398.3" cy="423.22" r="2.25"/><circle cx="400.6" cy="422.99" r="2.25"/><circle cx="402.9" cy="422.27" r="2.25"/><circle cx="405.2" cy="422.2" r="2.25"/><circle cx="407.5" cy="421.7" r="2.25"/><circle cx="409.8" cy="421.64" r="2.25"/><circle cx="412.1" cy="421.16" r="2.25"/><circle cx="414.4" cy="420.64" r="2.25"/><circle cx="416.7" cy="420.29" r="2.25"/><circle cx="419" cy="419.85" r="2.25"/><circle cx="421.3" cy="419.85" r="2.25"/><circle cx="423.6" cy="419.55" r="2.25"/><circle cx="425.9" cy="419.17" r="2.25"/><circle cx="428.2" cy="419.04" r="2.25"/><circle cx="430.5" cy="418.77" r="2.25"/><circle cx="432.8" cy="418.8" r="2.25"/><circle cx="435.1" cy="418.18" r="2.25"/><circle cx="437.4" cy="418.44" r="2.25"/><circle cx="439.7" cy="417.89" r="2.25"/><circle cx="442" cy="417.71" r="2.25"/><circle cx="444.3" cy="417.39" r="2.25"/><circle cx="446.6" cy="417.36" r="2.25"/><circle cx="448.9" cy="417.11" r="2.25"/><circle cx="451.2" cy="416.8" r="2.25"/><circle cx="453.5" cy="416.7" r="2.25"/><circle cx="455.8" cy="416.78" r="2.25"/><circle cx="458.1" cy="416.8" r="2.25"/><circle cx="460.4" cy="416.47" r="2.25"/><circle cx="462.7" cy="416.61" r="2.25"/><circle cx="465" cy="416.69" r="2.25"/><circle cx="467.3" cy="416.33" r="2.25"/><circle cx="469.6" cy="416.13" r="2.25"/><circle cx="471.9" cy="416.07" r="2.25"/><circle cx="474.2" cy="416.3" r="2.25"/><circle cx="476.5" cy="416.22" r="2.25"/><circle cx="478.8" cy="416.33" r="2.25"/><circle cx="481.1" cy="416.2" r="2.25"/><circle cx="483.4" cy="415.78" r="2.25"/><circle cx="485.7" cy="415.69" r="2.25"/><circle cx="488" cy="415.67" r="2.25"/><circle cx="490.3" cy="415.56" r="2.25"/><circle cx="492.6" cy="415.82" r="2.25"/><circle cx="494.9" cy="415.85" r="2.25"/><circle cx="497.2" cy="415.81" r="2.25"/><circle cx="499.5" cy="415.37" r="2.25"/><circle cx="501.8" cy="415.65" r="2.25"/><circle cx="504.1" cy="415.23" r="2.25"/><circle cx="506.4" cy="415.21" r="2.25"/><circle cx="508.7" cy="415.31" r="2.25"/><circle cx="511" cy="414.84" r="2.25"/><circle cx="513.3" cy="414.76" r="2.25"/><circle cx="515.6" cy="415.12" r="2.25"/><circle cx="517.9" cy="414.7" r="2.25"/><circle cx="520.2" cy="414.66" r="2.25"/><circle cx="522.5" cy="414.7" r="2.25"/><circle cx="524.8" cy="414.68" r="2.25"/><circle cx="527.1" cy="414.19" r="2.25"/><circle cx="529.4" cy="414.3" r="2.25"/><circle cx="531.7" cy="414.27" r="2.25"/><circle cx="534" cy="414.22" r="2.25"/><circle cx="536.3" cy="413.96" r="2.25"/><circle cx="538.6" cy="414.1" r="2.25"/><circle cx="540.9" cy="414.27" r="2.25"/><circle cx="543.2" cy="413.93" r="2.25"/><circle cx="545.5" cy="414.02" r="2.25"/><circle cx="547.8" cy="413.76" r="2.25"/><circle cx="550.1" cy="413.85" r="2.25"/><circle cx="552.4" cy="414.08" r="2.25"/><circle cx="554.7" cy="413.74" r="2.25"/><circle cx="557" cy="414.2" r="2.25"/><circle cx="559.3" cy="414.21" r="2.25"/><circle cx="561.6" cy="413.72" r="2.25"/><circle cx="563.9" cy="414.22" r="2.25"/><circle cx="566.2" cy="413.88" r="2.25"/><circle cx="568.5" cy="414.11" r="2.25"/><circle cx="570.8" cy="414.1" r="2.25"/><circle cx="573.1" cy="413.82" r="2.25"/><circle cx="575.4" cy="414.04" r="2.25"/><circle cx="577.7" cy="414.02" r="2.25"/><circle cx="580" cy="414.11" r="2.25"/><circle cx="582.3" cy="413.78" r="2.25"/><circle cx="584.6" cy="414.07" r="2.25"/><circle cx="586.9" cy="414.19" r="2.25"/><circle cx="589.2" cy="414.02" r="2.25"/><circle cx="591.5" cy="413.93" r="2.25"/><circle cx="593.8" cy="413.67" r="2.25"/><circle cx="596.1" cy="414.47" r="2.25"/><circle cx="598.4" cy="417.43" r="2.25"/><circle cx="600.7" cy="421.63" r="2.25"/><circle cx="603" cy="425.34" r="2.25"/><circle cx="605.3" cy="428.39" r="2.25"/><circle cx="607.6" cy="429.91" r="2.25"/><circle cx="609.9" cy="430.31" r="2.25"/><circle cx="612.2" cy="430.35" r="2.25"/><circle cx="614.5" cy="430.4" r="2.25"/><circle cx="616.8" cy="430.44" r="2.25"/><circle cx="619.1" cy="430.49" r="2.25"/><circle cx="621.4" cy="430.53" r="2.25"/><circle cx="623.7" cy="430.57" r="2.25"/><circle cx="626" cy="430.08" r="2.25"/><circle cx="628.3" cy="429.57" r="2.25"/><circle cx="630.6" cy="430.83" r="2.25"/><circle cx="632.9" cy="431.89" r="2.25"/><circle cx="635.2" cy="432.69" r="2.25"/><circle cx="637.5" cy="431.33" r="2.25"/><circle cx="639.8" cy="429.53" r="2.25"/></g>
<g fill="#000"><circle cx="338" cy="483.78" r="1.55"/><circle cx="339.8" cy="483.69" r="1.55"/><circle cx="341.6" cy="483.6" r="1.55"/><circle cx="343.4" cy="483.5" r="1.55"/><circle cx="345.2" cy="483.42" r="1.55"/><circle cx="347" cy="483.32" r="1.55"/><circle cx="348.8" cy="483.24" r="1.55"/><circle cx="350.6" cy="483.14" r="1.55"/><circle cx="352.4" cy="483.06" r="1.55"/><circle cx="354.2" cy="482.96" r="1.55"/><circle cx="356" cy="482.88" r="1.55"/><circle cx="357.8" cy="482.78" r="1.55"/><circle cx="359.6" cy="482.69" r="1.55"/><circle cx="361.4" cy="482.6" r="1.55"/><circle cx="363.2" cy="482.51" r="1.55"/><circle cx="365" cy="482.42" r="1.55"/><circle cx="367.5" cy="477.13" r="1.55"/><circle cx="369.3" cy="476.8" r="1.55"/><circle cx="371.1" cy="476.46" r="1.55"/><circle cx="372.9" cy="476.13" r="1.55"/><circle cx="374.7" cy="475.79" r="1.55"/><circle cx="376.5" cy="475.46" r="1.55"/><circle cx="378.3" cy="474.6" r="1.55"/><circle cx="380.1" cy="473.65" r="1.55"/><circle cx="381.9" cy="472.69" r="1.55"/><circle cx="383.7" cy="471.74" r="1.55"/><circle cx="385.5" cy="470.78" r="1.55"/><circle cx="387.3" cy="470.14" r="1.55"/><circle cx="389.1" cy="469.98" r="1.55"/><circle cx="390.9" cy="469.83" r="1.55"/><circle cx="392.7" cy="469.67" r="1.55"/><circle cx="394.5" cy="469.52" r="1.55"/><circle cx="396.3" cy="469.36" r="1.55"/><circle cx="398.1" cy="469.21" r="1.55"/><circle cx="399.9" cy="469.05" r="1.55"/><circle cx="401.7" cy="468.93" r="1.55"/><circle cx="403.5" cy="468.82" r="1.55"/><circle cx="405.3" cy="468.7" r="1.55"/><circle cx="407.1" cy="468.59" r="1.55"/><circle cx="408.9" cy="468.48" r="1.55"/><circle cx="410.7" cy="468.37" r="1.55"/><circle cx="412.5" cy="468.26" r="1.55"/><circle cx="414.3" cy="468.15" r="1.55"/><circle cx="416.1" cy="468.04" r="1.55"/><circle cx="417.9" cy="467.93" r="1.55"/><circle cx="419.7" cy="467.82" r="1.55"/><circle cx="421.5" cy="467.78" r="1.55"/><circle cx="423.3" cy="467.76" r="1.55"/><circle cx="425.1" cy="467.74" r="1.55"/><circle cx="426.9" cy="467.72" r="1.55"/><circle cx="428.7" cy="467.7" r="1.55"/><circle cx="430.5" cy="467.68" r="1.55"/><circle cx="432.3" cy="467.65" r="1.55"/><circle cx="434.1" cy="467.63" r="1.55"/><circle cx="435.9" cy="467.61" r="1.55"/><circle cx="437.7" cy="467.59" r="1.55"/><circle cx="439.5" cy="467.57" r="1.55"/><circle cx="441.3" cy="467.55" r="1.55"/><circle cx="443.1" cy="467.53" r="1.55"/><circle cx="444.9" cy="467.51" r="1.55"/><circle cx="446.7" cy="467.48" r="1.55"/><circle cx="448.5" cy="467.46" r="1.55"/><circle cx="450.3" cy="467.44" r="1.55"/><circle cx="452.1" cy="467.42" r="1.55"/><circle cx="453.9" cy="467.4" r="1.55"/><circle cx="455.7" cy="467.38" r="1.55"/><circle cx="457.5" cy="467.36" r="1.55"/><circle cx="459.3" cy="467.34" r="1.55"/><circle cx="461.1" cy="467.31" r="1.55"/><circle cx="462.9" cy="467.29" r="1.55"/><circle cx="464.7" cy="467.27" r="1.55"/><circle cx="466.5" cy="467.25" r="1.55"/><circle cx="468.3" cy="467.23" r="1.55"/><circle cx="470.1" cy="467.21" r="1.55"/><circle cx="471.9" cy="467.19" r="1.55"/><circle cx="473.7" cy="467.17" r="1.55"/><circle cx="475.5" cy="467.14" r="1.55"/><circle cx="477.3" cy="467.12" r="1.55"/><circle cx="479.1" cy="467.1" r="1.55"/><circle cx="480.9" cy="467.08" r="1.55"/><circle cx="482.7" cy="467.06" r="1.55"/><circle cx="484.5" cy="467.04" r="1.55"/><circle cx="486.3" cy="467.02" r="1.55"/><circle cx="488.1" cy="467" r="1.55"/><circle cx="489.9" cy="466.97" r="1.55"/><circle cx="491.7" cy="466.95" r="1.55"/><circle cx="493.5" cy="466.93" r="1.55"/><circle cx="495.3" cy="466.91" r="1.55"/><circle cx="497.1" cy="466.89" r="1.55"/><circle cx="498.9" cy="466.87" r="1.55"/><circle cx="500.7" cy="466.85" r="1.55"/><circle cx="502.5" cy="466.82" r="1.55"/><circle cx="504.3" cy="466.8" r="1.55"/><circle cx="506.1" cy="466.78" r="1.55"/><circle cx="507.9" cy="466.76" r="1.55"/><circle cx="509.7" cy="466.74" r="1.55"/><circle cx="511.5" cy="466.72" r="1.55"/><circle cx="513.3" cy="466.7" r="1.55"/><circle cx="515.1" cy="466.68" r="1.55"/><circle cx="516.9" cy="466.65" r="1.55"/><circle cx="518.7" cy="466.63" r="1.55"/><circle cx="520.5" cy="466.61" r="1.55"/><circle cx="522.3" cy="466.59" r="1.55"/><circle cx="524.1" cy="466.57" r="1.55"/><circle cx="525.9" cy="466.55" r="1.55"/><circle cx="527.7" cy="466.53" r="1.55"/><circle cx="529.5" cy="466.51" r="1.55"/><circle cx="531.3" cy="466.48" r="1.55"/><circle cx="533.1" cy="466.45" r="1.55"/><circle cx="534.9" cy="466.42" r="1.55"/><circle cx="536.7" cy="466.4" r="1.55"/><circle cx="538.5" cy="466.37" r="1.55"/><circle cx="540.3" cy="466.34" r="1.55"/><circle cx="542.1" cy="466.31" r="1.55"/><circle cx="543.9" cy="466.29" r="1.55"/><circle cx="545.7" cy="466.26" r="1.55"/><circle cx="547.5" cy="466.23" r="1.55"/><circle cx="549.3" cy="466.2" r="1.55"/><circle cx="551.1" cy="466.18" r="1.55"/><circle cx="552.9" cy="466.15" r="1.55"/><circle cx="554.7" cy="466.12" r="1.55"/><circle cx="556.5" cy="466.09" r="1.55"/><circle cx="558.3" cy="466.06" r="1.55"/><circle cx="560.1" cy="466.04" r="1.55"/><circle cx="561.9" cy="466.01" r="1.55"/><circle cx="563.7" cy="465.98" r="1.55"/><circle cx="565.5" cy="465.95" r="1.55"/><circle cx="567.3" cy="465.93" r="1.55"/><circle cx="569.1" cy="465.9" r="1.55"/><circle cx="570.9" cy="465.87" r="1.55"/><circle cx="572.7" cy="465.84" r="1.55"/><circle cx="574.5" cy="465.82" r="1.55"/><circle cx="576.3" cy="465.79" r="1.55"/><circle cx="578.1" cy="465.76" r="1.55"/><circle cx="579.9" cy="465.73" r="1.55"/><circle cx="581.7" cy="465.7" r="1.55"/><circle cx="583.5" cy="465.68" r="1.55"/><circle cx="585.3" cy="465.65" r="1.55"/><circle cx="587.1" cy="465.62" r="1.55"/><circle cx="589.8" cy="468.1" r="1.55"/><circle cx="591.6" cy="468.1" r="1.55"/><circle cx="593.4" cy="468.1" r="1.55"/><circle cx="595.2" cy="468.1" r="1.55"/><circle cx="597" cy="468.1" r="1.55"/><circle cx="598.8" cy="468.1" r="1.55"/><circle cx="600.6" cy="468.1" r="1.55"/><circle cx="603" cy="469.42" r="1.55"/><circle cx="604.8" cy="471.79" r="1.55"/><circle cx="606.6" cy="474.16" r="1.55"/><circle cx="608.4" cy="476.53" r="1.55"/><circle cx="611" cy="479.6" r="1.55"/><circle cx="612.8" cy="479.71" r="1.55"/><circle cx="614.6" cy="479.82" r="1.55"/><circle cx="616.4" cy="479.91" r="1.55"/><circle cx="618.2" cy="479.99" r="1.55"/><circle cx="620" cy="480.05" r="1.55"/><circle cx="621.8" cy="480.09" r="1.55"/><circle cx="623.6" cy="480.1" r="1.55"/><circle cx="625.4" cy="480.09" r="1.55"/><circle cx="627.2" cy="480.05" r="1.55"/><circle cx="629" cy="479.99" r="1.55"/><circle cx="630.8" cy="479.91" r="1.55"/><circle cx="632.6" cy="479.81" r="1.55"/><circle cx="634.4" cy="479.71" r="1.55"/><circle cx="636.2" cy="479.6" r="1.55"/><circle cx="638" cy="479.48" r="1.55"/><circle cx="639.8" cy="479.38" r="1.55"/><circle cx="641.6" cy="479.28" r="1.55"/></g>
<path d="M371 455.6L375.2 446.7L379.4 455.6Z" fill="#000"/>
<line x1="375.2" y1="455.1" x2="375.2" y2="464" stroke-width="1.3"/>
<path d="M357.2 504.7L361.4 495.8L365.6 504.7Z" fill="#000"/>
<line x1="361.4" y1="504.2" x2="361.4" y2="513.4" stroke-width="1.3"/>
<circle cx="548.0" cy="362.0" r="3.3" fill="#fff" stroke="#333" stroke-width="0.7"/>
<circle cx="548.0" cy="377.5" r="3.6" fill="#000"/>
<text x="567.49" y="366.2" font-size="11.8" textLength="30.49" lengthAdjust="spacingAndGlyphs">IRK1J</text>
<text x="567.48" y="381.2" font-size="11.8" textLength="79.08" lengthAdjust="spacingAndGlyphs">IRK1J &amp; S165C</text>
<rect x="376.5" y="523.8" width="217.3" height="4.6" fill="#fff" stroke="#000" stroke-width="1.4"/>
<text x="426.09" y="551.4" font-size="15.6" textLength="114.97" lengthAdjust="spacingAndGlyphs">2.5 mM MTSEA</text>
<text x="586.76" y="509.3" font-size="16.2" textLength="62.31" lengthAdjust="spacingAndGlyphs">wash out</text>
<defs><pattern id="hatch" patternUnits="userSpaceOnUse" width="6.75" height="6.75" patternTransform="rotate(45)"><line x1="0" y1="-1" x2="0" y2="8" stroke="#000" stroke-width="1.1"/></pattern></defs>
<line x1="63.4" y1="672.4" x2="64" y2="875" stroke-width="1.25"/>
<line x1="63.4" y1="874.4" x2="395.7" y2="874.1" stroke-width="1.25"/>
<line x1="54.8" y1="673.1" x2="63.7" y2="673.1" stroke-width="1.25"/>
<line x1="55.1" y1="772.9" x2="64" y2="772.9" stroke-width="1.25"/>
<line x1="55.39" y1="873" x2="64.29" y2="873" stroke-width="1.25"/>
<text x="35.34" y="677.6" font-size="10.3" textLength="15.05" lengthAdjust="spacingAndGlyphs">1.0</text>
<text x="34.94" y="777.5" font-size="10.3" textLength="16.59" lengthAdjust="spacingAndGlyphs">0.5</text>
<text x="45.06" y="876.6" font-size="10.3" textLength="6.24" lengthAdjust="spacingAndGlyphs">0</text>
<text transform="translate(25.7 792.1) rotate(-90)" x="-0.83" y="0" font-size="14.0" textLength="50.82" lengthAdjust="spacingAndGlyphs">Fraction</text>
<line x1="94.8" y1="800.8" x2="94.8" y2="782.6" stroke-width="1.2"/>
<line x1="91.5" y1="782.6" x2="98.1" y2="782.6" stroke-width="1.3"/>
<rect x="82.1" y="800.8" width="25.8" height="72" fill="#000"/>
<line x1="121.4" y1="680.5" x2="121.4" y2="674.5" stroke-width="1.2"/>
<line x1="118.1" y1="674.5" x2="124.7" y2="674.5" stroke-width="1.3"/>
<rect x="109.8" y="680.5" width="23.3" height="191.7" fill="#fff" stroke="#000" stroke-width="1.3"/>
<line x1="148.5" y1="680.1" x2="148.5" y2="679" stroke-width="1.2"/>
<line x1="145.1" y1="679" x2="151.9" y2="679" stroke-width="1.3"/>
<clipPath id="hc1"><rect x="136.7" y="680.1" width="23.6" height="192.1"/></clipPath>
<rect x="136.7" y="680.1" width="23.6" height="192.1" fill="#fff"/>
<path d="M-57.4 873.2L136.7 679.1M-47.85 873.2L146.25 679.1M-38.3 873.2L155.8 679.1M-28.75 873.2L165.35 679.1M-19.2 873.2L174.9 679.1M-9.65 873.2L184.45 679.1M-0.1 873.2L194 679.1M9.45 873.2L203.55 679.1M19 873.2L213.1 679.1M28.55 873.2L222.65 679.1M38.1 873.2L232.2 679.1M47.65 873.2L241.75 679.1M57.2 873.2L251.3 679.1M66.75 873.2L260.85 679.1M76.3 873.2L270.4 679.1M85.85 873.2L279.95 679.1M95.4 873.2L289.5 679.1M104.95 873.2L299.05 679.1M114.5 873.2L308.6 679.1M124.05 873.2L318.15 679.1M133.6 873.2L327.7 679.1M143.15 873.2L337.25 679.1M152.7 873.2L346.8 679.1M162.25 873.2L356.35 679.1" stroke="#000" stroke-width="1.15" fill="none" clip-path="url(#hc1)"/>
<rect x="136.7" y="680.1" width="23.6" height="192.1" fill="none" stroke="#000" stroke-width="1.3"/>
<line x1="203.3" y1="796.5" x2="203.3" y2="785.3" stroke-width="1.2"/>
<line x1="200" y1="785.3" x2="206.6" y2="785.3" stroke-width="1.3"/>
<rect x="190.4" y="796.5" width="25.5" height="76.3" fill="#000"/>
<line x1="230" y1="686.2" x2="230" y2="681.6" stroke-width="1.2"/>
<line x1="226.7" y1="681.6" x2="233.3" y2="681.6" stroke-width="1.3"/>
<rect x="217.8" y="686.2" width="24.1" height="186" fill="#fff" stroke="#000" stroke-width="1.3"/>
<line x1="257" y1="677.8" x2="257" y2="674.8" stroke-width="1.2"/>
<line x1="253.7" y1="674.8" x2="260.3" y2="674.8" stroke-width="1.3"/>
<clipPath id="hc2"><rect x="244.9" y="677.8" width="24.2" height="194.4"/></clipPath>
<rect x="244.9" y="677.8" width="24.2" height="194.4" fill="#fff"/>
<path d="M47.65 873.2L244.05 676.8M57.2 873.2L253.6 676.8M66.75 873.2L263.15 676.8M76.3 873.2L272.7 676.8M85.85 873.2L282.25 676.8M95.4 873.2L291.8 676.8M104.95 873.2L301.35 676.8M114.5 873.2L310.9 676.8M124.05 873.2L320.45 676.8M133.6 873.2L330 676.8M143.15 873.2L339.55 676.8M152.7 873.2L349.1 676.8M162.25 873.2L358.65 676.8M171.8 873.2L368.2 676.8M181.35 873.2L377.75 676.8M190.9 873.2L387.3 676.8M200.45 873.2L396.85 676.8M210 873.2L406.4 676.8M219.55 873.2L415.95 676.8M229.1 873.2L425.5 676.8M238.65 873.2L435.05 676.8M248.2 873.2L444.6 676.8M257.75 873.2L454.15 676.8M267.3 873.2L463.7 676.8M276.85 873.2L473.25 676.8" stroke="#000" stroke-width="1.15" fill="none" clip-path="url(#hc2)"/>
<rect x="244.9" y="677.8" width="24.2" height="194.4" fill="none" stroke="#000" stroke-width="1.3"/>
<line x1="311.8" y1="789.8" x2="311.8" y2="777.3" stroke-width="1.2"/>
<line x1="308.5" y1="777.3" x2="315.1" y2="777.3" stroke-width="1.3"/>
<rect x="299.1" y="789.8" width="25.8" height="83" fill="#000"/>
<line x1="338.6" y1="686.9" x2="338.6" y2="681.5" stroke-width="1.2"/>
<line x1="335.3" y1="681.5" x2="341.9" y2="681.5" stroke-width="1.3"/>
<rect x="326.6" y="686.9" width="24.2" height="185.3" fill="#fff" stroke="#000" stroke-width="1.3"/>
<line x1="366.3" y1="678.4" x2="366.3" y2="673.1" stroke-width="1.2"/>
<line x1="363" y1="673.1" x2="369.6" y2="673.1" stroke-width="1.3"/>
<clipPath id="hc3"><rect x="353.9" y="678.4" width="24" height="193.8"/></clipPath>
<rect x="353.9" y="678.4" width="24" height="193.8" fill="#fff"/>
<path d="M152.7 873.2L348.5 677.4M162.25 873.2L358.05 677.4M171.8 873.2L367.6 677.4M181.35 873.2L377.15 677.4M190.9 873.2L386.7 677.4M200.45 873.2L396.25 677.4M210 873.2L405.8 677.4M219.55 873.2L415.35 677.4M229.1 873.2L424.9 677.4M238.65 873.2L434.45 677.4M248.2 873.2L444 677.4M257.75 873.2L453.55 677.4M267.3 873.2L463.1 677.4M276.85 873.2L472.65 677.4M286.4 873.2L482.2 677.4M295.95 873.2L491.75 677.4M305.5 873.2L501.3 677.4M315.05 873.2L510.85 677.4M324.6 873.2L520.4 677.4M334.15 873.2L529.95 677.4M343.7 873.2L539.5 677.4M353.25 873.2L549.05 677.4M362.8 873.2L558.6 677.4M372.35 873.2L568.15 677.4M381.9 873.2L577.7 677.4" stroke="#000" stroke-width="1.15" fill="none" clip-path="url(#hc3)"/>
<rect x="353.9" y="678.4" width="24" height="193.8" fill="none" stroke="#000" stroke-width="1.3"/>
<text x="96" y="895.5" font-size="13.8" textLength="46.79" lengthAdjust="spacingAndGlyphs">MTSET</text>
<text x="202.41" y="895.5" font-size="13.8" textLength="46.85" lengthAdjust="spacingAndGlyphs">MTSEA</text>
<text x="326" y="895.6" font-size="14.0" textLength="17.89" lengthAdjust="spacingAndGlyphs">Cd</text>
<text x="343.85" y="886" font-size="9.2" textLength="10.24" lengthAdjust="spacingAndGlyphs">2+</text>
<rect x="245.8" y="612.3" width="17.3" height="7.3" fill="#000"/>
<rect x="246.6" y="627.7" width="15.8" height="5.9" fill="#fff" stroke="#000" stroke-width="1.0"/>
<rect x="246.6" y="642.7" width="15.8" height="6.6" fill="#fff" stroke="#000" stroke-width="1.0"/>
<line x1="253.4" y1="649.2" x2="257.8" y2="642.8" stroke-width="1.0"/>
<line x1="246.8" y1="645.4" x2="248.9" y2="642.7" stroke-width="0.9"/>
<text x="273.43" y="619.8" font-size="11.0" textLength="81.73" lengthAdjust="spacingAndGlyphs">C149F &amp; F147C</text>
<text x="273.43" y="634.2" font-size="11.0" textLength="33.95" lengthAdjust="spacingAndGlyphs">C149F</text>
<text x="273.43" y="650.2" font-size="11.0" textLength="83.24" lengthAdjust="spacingAndGlyphs">C149F &amp; S165C</text>
<line x1="466.5" y1="671.2" x2="467.9" y2="873.8" stroke-width="1.25"/>
<line x1="467.3" y1="873.2" x2="642.6" y2="873.4" stroke-width="1.25"/>
<line x1="457.9" y1="671.7" x2="466.8" y2="671.7" stroke-width="1.25"/>
<line x1="458.6" y1="772.2" x2="467.5" y2="772.2" stroke-width="1.25"/>
<line x1="459.28" y1="871.5" x2="468.18" y2="871.5" stroke-width="1.25"/>
<text x="438.37" y="676.2" font-size="10.3" textLength="14.51" lengthAdjust="spacingAndGlyphs">1.0</text>
<text x="439.26" y="776.1" font-size="10.3" textLength="15.85" lengthAdjust="spacingAndGlyphs">0.5</text>
<text x="449.09" y="875.2" font-size="10.3" textLength="5.79" lengthAdjust="spacingAndGlyphs">0</text>
<text transform="translate(431.6 793.9) rotate(-90)" x="-0.83" y="0" font-size="14.0" textLength="50.82" lengthAdjust="spacingAndGlyphs">Fraction</text>
<line x1="498.5" y1="689.3" x2="498.5" y2="678.1" stroke-width="1.2"/>
<line x1="495.2" y1="678.1" x2="501.8" y2="678.1" stroke-width="1.3"/>
<rect x="486.5" y="689.3" width="24.4" height="181.6" fill="#fff" stroke="#000" stroke-width="1.3"/>
<line x1="526.7" y1="689.6" x2="526.7" y2="684.8" stroke-width="1.2"/>
<line x1="523.4" y1="684.8" x2="530" y2="684.8" stroke-width="1.3"/>
<clipPath id="hc4"><rect x="514.7" y="689.6" width="24.4" height="181.3"/></clipPath>
<rect x="514.7" y="689.6" width="24.4" height="181.3" fill="#fff"/>
<path d="M325.9 871.9L509.2 688.6M335.45 871.9L518.75 688.6M345 871.9L528.3 688.6M354.55 871.9L537.85 688.6M364.1 871.9L547.4 688.6M373.65 871.9L556.95 688.6M383.2 871.9L566.5 688.6M392.75 871.9L576.05 688.6M402.3 871.9L585.6 688.6M411.85 871.9L595.15 688.6M421.4 871.9L604.7 688.6M430.95 871.9L614.25 688.6M440.5 871.9L623.8 688.6M450.05 871.9L633.35 688.6M459.6 871.9L642.9 688.6M469.15 871.9L652.45 688.6M478.7 871.9L662 688.6M488.25 871.9L671.55 688.6M497.8 871.9L681.1 688.6M507.35 871.9L690.65 688.6M516.9 871.9L700.2 688.6M526.45 871.9L709.75 688.6M536 871.9L719.3 688.6M545.55 871.9L728.85 688.6" stroke="#000" stroke-width="1.15" fill="none" clip-path="url(#hc4)"/>
<rect x="514.7" y="689.6" width="24.4" height="181.3" fill="none" stroke="#000" stroke-width="1.3"/>
<line x1="582.7" y1="704.1" x2="582.7" y2="701.7" stroke-width="1.2"/>
<line x1="579.4" y1="701.7" x2="586" y2="701.7" stroke-width="1.3"/>
<rect x="570.5" y="704.1" width="24.8" height="166.8" fill="#fff" stroke="#000" stroke-width="1.3"/>
<line x1="611" y1="703.3" x2="611" y2="694.7" stroke-width="1.2"/>
<line x1="607.7" y1="694.7" x2="614.3" y2="694.7" stroke-width="1.3"/>
<clipPath id="hc5"><rect x="598.7" y="703.3" width="24.5" height="167.6"/></clipPath>
<rect x="598.7" y="703.3" width="24.5" height="167.6" fill="#fff"/>
<path d="M421.4 871.9L591 702.3M430.95 871.9L600.55 702.3M440.5 871.9L610.1 702.3M450.05 871.9L619.65 702.3M459.6 871.9L629.2 702.3M469.15 871.9L638.75 702.3M478.7 871.9L648.3 702.3M488.25 871.9L657.85 702.3M497.8 871.9L667.4 702.3M507.35 871.9L676.95 702.3M516.9 871.9L686.5 702.3M526.45 871.9L696.05 702.3M536 871.9L705.6 702.3M545.55 871.9L715.15 702.3M555.1 871.9L724.7 702.3M564.65 871.9L734.25 702.3M574.2 871.9L743.8 702.3M583.75 871.9L753.35 702.3M593.3 871.9L762.9 702.3M602.85 871.9L772.45 702.3M612.4 871.9L782 702.3M621.95 871.9L791.55 702.3M631.5 871.9L801.1 702.3" stroke="#000" stroke-width="1.15" fill="none" clip-path="url(#hc5)"/>
<rect x="598.7" y="703.3" width="24.5" height="167.6" fill="none" stroke="#000" stroke-width="1.3"/>
<text x="488.92" y="895.3" font-size="13.8" textLength="45.56" lengthAdjust="spacingAndGlyphs">MTSET</text>
<text x="570.71" y="895.3" font-size="13.8" textLength="46.74" lengthAdjust="spacingAndGlyphs">MTSEA</text>
<rect x="545.6" y="625.9" width="15.6" height="6.3" fill="#fff" stroke="#000" stroke-width="1.0"/>
<rect x="545.6" y="640.8" width="15.6" height="6.5" fill="#fff" stroke="#000" stroke-width="1.0"/>
<line x1="551.4" y1="647.2" x2="556.6" y2="640.9" stroke-width="1.0"/>
<line x1="545.9" y1="643.4" x2="547.6" y2="641" stroke-width="0.9"/>
<text x="572.29" y="633.1" font-size="11.0" textLength="30.49" lengthAdjust="spacingAndGlyphs">IRK1J</text>
<text x="572.28" y="648.1" font-size="11.0" textLength="79.38" lengthAdjust="spacingAndGlyphs">IRK1J &amp; S165C</text>
</svg>
</body></html>
